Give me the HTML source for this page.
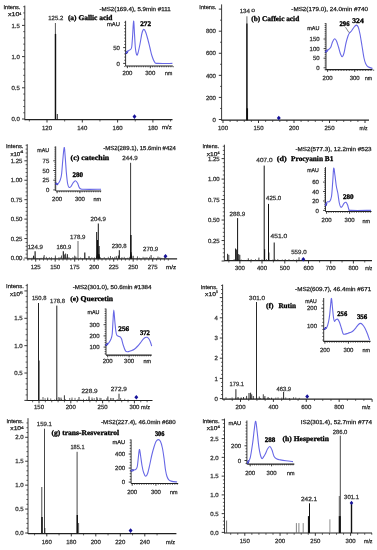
<!DOCTYPE html>
<html><head><meta charset="utf-8"><title>LC-MS/MS spectra</title>
<style>html,body{margin:0;padding:0;background:#fff;}svg{display:block;filter:blur(0.25px);}text{text-rendering:geometricPrecision;}</style>
</head><body>
<svg width="377" height="550" viewBox="0 0 377 550"><rect width="377" height="550" fill="#fff"/><line x1="24.8" y1="5.6" x2="24.8" y2="120.2" stroke="#222" stroke-width="0.9"/><line x1="23.2" y1="112.76" x2="24.8" y2="112.76" stroke="#222" stroke-width="0.7"/><line x1="23.2" y1="106.52" x2="24.8" y2="106.52" stroke="#222" stroke-width="0.7"/><line x1="23.2" y1="100.28" x2="24.8" y2="100.28" stroke="#222" stroke-width="0.7"/><line x1="23.2" y1="94.04" x2="24.8" y2="94.04" stroke="#222" stroke-width="0.7"/><line x1="23.2" y1="81.56" x2="24.8" y2="81.56" stroke="#222" stroke-width="0.7"/><line x1="23.2" y1="75.32" x2="24.8" y2="75.32" stroke="#222" stroke-width="0.7"/><line x1="23.2" y1="69.08" x2="24.8" y2="69.08" stroke="#222" stroke-width="0.7"/><line x1="23.2" y1="62.84" x2="24.8" y2="62.84" stroke="#222" stroke-width="0.7"/><line x1="23.2" y1="50.36" x2="24.8" y2="50.36" stroke="#222" stroke-width="0.7"/><line x1="23.2" y1="44.12" x2="24.8" y2="44.12" stroke="#222" stroke-width="0.7"/><line x1="23.2" y1="37.88" x2="24.8" y2="37.88" stroke="#222" stroke-width="0.7"/><line x1="23.2" y1="31.64" x2="24.8" y2="31.64" stroke="#222" stroke-width="0.7"/><line x1="23.2" y1="19.16" x2="24.8" y2="19.16" stroke="#222" stroke-width="0.7"/><line x1="23.2" y1="12.92" x2="24.8" y2="12.92" stroke="#222" stroke-width="0.7"/><line x1="23.2" y1="6.68" x2="24.8" y2="6.68" stroke="#222" stroke-width="0.7"/><line x1="22" y1="119" x2="24.8" y2="119" stroke="#222" stroke-width="0.9"/><line x1="22" y1="87.8" x2="24.8" y2="87.8" stroke="#222" stroke-width="0.9"/><line x1="22" y1="56.6" x2="24.8" y2="56.6" stroke="#222" stroke-width="0.9"/><line x1="22" y1="25.4" x2="24.8" y2="25.4" stroke="#222" stroke-width="0.9"/><text x="19.8" y="27.56" font-size="6" font-family='"Liberation Sans", sans-serif' text-anchor="end" stroke="#333" stroke-width="0.25" fill="#333">1.5</text><text x="19.8" y="58.76" font-size="6" font-family='"Liberation Sans", sans-serif' text-anchor="end" stroke="#333" stroke-width="0.25" fill="#333">1.0</text><text x="19.8" y="89.96" font-size="6" font-family='"Liberation Sans", sans-serif' text-anchor="end" stroke="#333" stroke-width="0.25" fill="#333">0.5</text><text x="19.8" y="121.16" font-size="6" font-family='"Liberation Sans", sans-serif' text-anchor="end" stroke="#333" stroke-width="0.25" fill="#333">0.0</text><text x="3.5" y="8.82" font-size="5.6" font-family='"Liberation Sans", sans-serif' stroke="#222" stroke-width="0.25" textLength="16.9" lengthAdjust="spacingAndGlyphs" fill="#222">Intens.</text><text x="8" y="16.32" font-size="5.6" font-family='"Liberation Sans", sans-serif' stroke="#222" stroke-width="0.25" textLength="11.5" lengthAdjust="spacingAndGlyphs" fill="#222">x10</text><text x="19.5" y="14.79" font-size="4" font-family='"Liberation Sans", sans-serif' stroke="#222" stroke-width="0.2" textLength="1.8" lengthAdjust="spacingAndGlyphs" fill="#222">4</text><line x1="24.8" y1="119.7" x2="172.5" y2="119.7" stroke="#222" stroke-width="1.2"/><line x1="29.35" y1="119.7" x2="29.35" y2="121.5" stroke="#222" stroke-width="0.7"/><line x1="64.65" y1="119.7" x2="64.65" y2="121.5" stroke="#222" stroke-width="0.7"/><line x1="99.95" y1="119.7" x2="99.95" y2="121.5" stroke="#222" stroke-width="0.7"/><line x1="135.25" y1="119.7" x2="135.25" y2="121.5" stroke="#222" stroke-width="0.7"/><line x1="170.55" y1="119.7" x2="170.55" y2="121.5" stroke="#222" stroke-width="0.7"/><line x1="47" y1="119.7" x2="47" y2="122.5" stroke="#222" stroke-width="0.9"/><line x1="82.3" y1="119.7" x2="82.3" y2="122.5" stroke="#222" stroke-width="0.9"/><line x1="117.6" y1="119.7" x2="117.6" y2="122.5" stroke="#222" stroke-width="0.9"/><line x1="152.9" y1="119.7" x2="152.9" y2="122.5" stroke="#222" stroke-width="0.9"/><text x="47" y="129.76" font-size="6" font-family='"Liberation Sans", sans-serif' text-anchor="middle" stroke="#333" stroke-width="0.25" fill="#333">120</text><text x="82.3" y="129.76" font-size="6" font-family='"Liberation Sans", sans-serif' text-anchor="middle" stroke="#333" stroke-width="0.25" fill="#333">140</text><text x="117.6" y="129.76" font-size="6" font-family='"Liberation Sans", sans-serif' text-anchor="middle" stroke="#333" stroke-width="0.25" fill="#333">160</text><text x="152.9" y="129.76" font-size="6" font-family='"Liberation Sans", sans-serif' text-anchor="middle" stroke="#333" stroke-width="0.25" fill="#333">180</text><text x="162" y="128.82" font-size="5.6" font-family='"Liberation Sans", sans-serif' stroke="#222" stroke-width="0.25" textLength="9.7" lengthAdjust="spacingAndGlyphs" fill="#222">m/z</text><line x1="55.4" y1="23" x2="55.4" y2="119.7" stroke="#444" stroke-width="0.9"/><line x1="55.5" y1="33.9" x2="55.5" y2="119.7" stroke="#111" stroke-width="1.4"/><line x1="57.3" y1="114" x2="57.3" y2="119.7" stroke="#111" stroke-width="0.9"/><text x="48.3" y="20.36" font-size="6" font-family='"Liberation Sans", sans-serif' stroke="#333" stroke-width="0.25" textLength="14.9" lengthAdjust="spacingAndGlyphs" fill="#333">125.2</text><text x="67.9" y="19.6" font-size="7.2" font-family='"Liberation Serif", serif' font-weight="bold" stroke="#000" stroke-width="0.3" textLength="44.6" lengthAdjust="spacingAndGlyphs" fill="#000">(a) Gallic acid</text><text x="99.5" y="10.89" font-size="5.8" font-family='"Liberation Sans", sans-serif' stroke="#222" stroke-width="0.25" textLength="71.1" lengthAdjust="spacingAndGlyphs" fill="#222">-MS2(169.4), 5.9min #111</text><path d="M134.5 114.3L136.46 116.6L134.5 118.9L132.54 116.6Z" fill="#16129a"/><line x1="125.6" y1="20.8" x2="125.6" y2="66" stroke="#222" stroke-width="0.9"/><line x1="124.2" y1="66.56" x2="125.6" y2="66.56" stroke="#222" stroke-width="0.7"/><line x1="124.2" y1="60.24" x2="125.6" y2="60.24" stroke="#222" stroke-width="0.7"/><line x1="124.2" y1="57.08" x2="125.6" y2="57.08" stroke="#222" stroke-width="0.7"/><line x1="124.2" y1="53.92" x2="125.6" y2="53.92" stroke="#222" stroke-width="0.7"/><line x1="124.2" y1="50.76" x2="125.6" y2="50.76" stroke="#222" stroke-width="0.7"/><line x1="124.2" y1="44.44" x2="125.6" y2="44.44" stroke="#222" stroke-width="0.7"/><line x1="124.2" y1="41.28" x2="125.6" y2="41.28" stroke="#222" stroke-width="0.7"/><line x1="124.2" y1="38.12" x2="125.6" y2="38.12" stroke="#222" stroke-width="0.7"/><line x1="124.2" y1="34.96" x2="125.6" y2="34.96" stroke="#222" stroke-width="0.7"/><line x1="124.2" y1="31.8" x2="125.6" y2="31.8" stroke="#222" stroke-width="0.7"/><line x1="124.2" y1="28.64" x2="125.6" y2="28.64" stroke="#222" stroke-width="0.7"/><line x1="124.2" y1="25.48" x2="125.6" y2="25.48" stroke="#222" stroke-width="0.7"/><line x1="124.2" y1="22.32" x2="125.6" y2="22.32" stroke="#222" stroke-width="0.7"/><line x1="123.2" y1="63.4" x2="125.6" y2="63.4" stroke="#222" stroke-width="0.9"/><line x1="123.2" y1="47.6" x2="125.6" y2="47.6" stroke="#222" stroke-width="0.9"/><text x="119.9" y="49.76" font-size="6" font-family='"Liberation Sans", sans-serif' text-anchor="end" stroke="#333" stroke-width="0.25" fill="#333">50</text><text x="119.9" y="65.56" font-size="6" font-family='"Liberation Sans", sans-serif' text-anchor="end" stroke="#333" stroke-width="0.25" fill="#333">0</text><text x="107" y="25.82" font-size="5.6" font-family='"Liberation Sans", sans-serif' stroke="#222" stroke-width="0.25" textLength="13" lengthAdjust="spacingAndGlyphs" fill="#222">mAU</text><line x1="126" y1="66" x2="172.8" y2="66" stroke="#222" stroke-width="1.2"/><line x1="129.69" y1="66" x2="129.69" y2="67.3" stroke="#222" stroke-width="0.7"/><line x1="131.98" y1="66" x2="131.98" y2="67.3" stroke="#222" stroke-width="0.7"/><line x1="134.27" y1="66" x2="134.27" y2="67.3" stroke="#222" stroke-width="0.7"/><line x1="136.56" y1="66" x2="136.56" y2="67.3" stroke="#222" stroke-width="0.7"/><line x1="138.85" y1="66" x2="138.85" y2="67.3" stroke="#222" stroke-width="0.7"/><line x1="141.14" y1="66" x2="141.14" y2="67.3" stroke="#222" stroke-width="0.7"/><line x1="143.43" y1="66" x2="143.43" y2="67.3" stroke="#222" stroke-width="0.7"/><line x1="145.72" y1="66" x2="145.72" y2="67.3" stroke="#222" stroke-width="0.7"/><line x1="148.01" y1="66" x2="148.01" y2="67.3" stroke="#222" stroke-width="0.7"/><line x1="152.59" y1="66" x2="152.59" y2="67.3" stroke="#222" stroke-width="0.7"/><line x1="154.88" y1="66" x2="154.88" y2="67.3" stroke="#222" stroke-width="0.7"/><line x1="157.17" y1="66" x2="157.17" y2="67.3" stroke="#222" stroke-width="0.7"/><line x1="159.46" y1="66" x2="159.46" y2="67.3" stroke="#222" stroke-width="0.7"/><line x1="161.75" y1="66" x2="161.75" y2="67.3" stroke="#222" stroke-width="0.7"/><line x1="164.04" y1="66" x2="164.04" y2="67.3" stroke="#222" stroke-width="0.7"/><line x1="166.33" y1="66" x2="166.33" y2="67.3" stroke="#222" stroke-width="0.7"/><line x1="168.62" y1="66" x2="168.62" y2="67.3" stroke="#222" stroke-width="0.7"/><line x1="170.91" y1="66" x2="170.91" y2="67.3" stroke="#222" stroke-width="0.7"/><line x1="173.2" y1="66" x2="173.2" y2="67.3" stroke="#222" stroke-width="0.7"/><line x1="127.4" y1="66" x2="127.4" y2="68.2" stroke="#222" stroke-width="0.9"/><line x1="150.3" y1="66" x2="150.3" y2="68.2" stroke="#222" stroke-width="0.9"/><text x="127.4" y="74.56" font-size="6" font-family='"Liberation Sans", sans-serif' text-anchor="middle" stroke="#333" stroke-width="0.25" fill="#333">200</text><text x="150.3" y="74.56" font-size="6" font-family='"Liberation Sans", sans-serif' text-anchor="middle" stroke="#333" stroke-width="0.25" fill="#333">300</text><text x="165" y="74.62" font-size="5.6" font-family='"Liberation Sans", sans-serif' stroke="#222" stroke-width="0.25" textLength="7.2" lengthAdjust="spacingAndGlyphs" fill="#222">nm</text><line x1="126.3" y1="53.1" x2="127.38" y2="51.65" stroke="#2424a0" stroke-width="1.9" stroke-linecap="round"/><path d="M126 53.1 C126.33 52.75 127.25 51.6 128 51 C128.75 50.4 129.88 50.17 130.5 49.5 C131.12 48.83 131.35 49.25 131.7 47 C132.05 44.75 132.28 40.32 132.6 36 C132.92 31.68 133.28 21.43 133.6 21.1 C133.92 20.77 134.2 29.52 134.5 34 C134.8 38.48 135.03 44.53 135.4 48 C135.77 51.47 136.27 53.97 136.7 54.8 C137.13 55.63 137.45 54.8 138 53 C138.55 51.2 139.33 47.33 140 44 C140.67 40.67 141.35 35.43 142 33 C142.65 30.57 143.27 29.48 143.9 29.4 C144.53 29.32 145.12 30.73 145.8 32.5 C146.48 34.27 147.3 37.42 148 40 C148.7 42.58 149.33 45.33 150 48 C150.67 50.67 151.2 53.6 152 56 C152.8 58.4 153.8 61.17 154.8 62.4 C155.8 63.63 155.07 63.23 158 63.4 C160.93 63.57 170 63.4 172.4 63.4" fill="none" stroke="#6868e6" stroke-width="1.1" stroke-linejoin="round"/><text x="140.2" y="25.72" font-size="7" font-family='"Liberation Serif", serif' font-weight="bold" stroke="#000" stroke-width="0.35" textLength="10.8" lengthAdjust="spacingAndGlyphs" fill="#000">272</text><line x1="221.6" y1="4.4" x2="221.6" y2="120.6" stroke="#222" stroke-width="0.9"/><line x1="220" y1="108.46" x2="221.6" y2="108.46" stroke="#222" stroke-width="0.7"/><line x1="220" y1="86.39" x2="221.6" y2="86.39" stroke="#222" stroke-width="0.7"/><line x1="220" y1="64.31" x2="221.6" y2="64.31" stroke="#222" stroke-width="0.7"/><line x1="220" y1="42.24" x2="221.6" y2="42.24" stroke="#222" stroke-width="0.7"/><line x1="220" y1="20.16" x2="221.6" y2="20.16" stroke="#222" stroke-width="0.7"/><line x1="218.8" y1="119.5" x2="221.6" y2="119.5" stroke="#222" stroke-width="0.9"/><line x1="218.8" y1="97.42" x2="221.6" y2="97.42" stroke="#222" stroke-width="0.9"/><line x1="218.8" y1="75.35" x2="221.6" y2="75.35" stroke="#222" stroke-width="0.9"/><line x1="218.8" y1="53.28" x2="221.6" y2="53.28" stroke="#222" stroke-width="0.9"/><line x1="218.8" y1="31.2" x2="221.6" y2="31.2" stroke="#222" stroke-width="0.9"/><line x1="218.8" y1="9.12" x2="221.6" y2="9.12" stroke="#222" stroke-width="0.9"/><text x="215.9" y="33.36" font-size="6" font-family='"Liberation Sans", sans-serif' text-anchor="end" stroke="#333" stroke-width="0.25" fill="#333">800</text><text x="215.9" y="55.44" font-size="6" font-family='"Liberation Sans", sans-serif' text-anchor="end" stroke="#333" stroke-width="0.25" fill="#333">600</text><text x="215.9" y="77.51" font-size="6" font-family='"Liberation Sans", sans-serif' text-anchor="end" stroke="#333" stroke-width="0.25" fill="#333">400</text><text x="215.9" y="99.58" font-size="6" font-family='"Liberation Sans", sans-serif' text-anchor="end" stroke="#333" stroke-width="0.25" fill="#333">200</text><text x="215.9" y="121.66" font-size="6" font-family='"Liberation Sans", sans-serif' text-anchor="end" stroke="#333" stroke-width="0.25" fill="#333">0</text><text x="199.3" y="9.02" font-size="5.6" font-family='"Liberation Sans", sans-serif' stroke="#222" stroke-width="0.25" textLength="17.1" lengthAdjust="spacingAndGlyphs" fill="#222">Intens.</text><line x1="221.6" y1="120.2" x2="369" y2="120.2" stroke="#222" stroke-width="1.2"/><line x1="230.1" y1="120.2" x2="230.1" y2="122" stroke="#222" stroke-width="0.7"/><line x1="237.2" y1="120.2" x2="237.2" y2="122" stroke="#222" stroke-width="0.7"/><line x1="244.3" y1="120.2" x2="244.3" y2="122" stroke="#222" stroke-width="0.7"/><line x1="251.4" y1="120.2" x2="251.4" y2="122" stroke="#222" stroke-width="0.7"/><line x1="265.6" y1="120.2" x2="265.6" y2="122" stroke="#222" stroke-width="0.7"/><line x1="272.7" y1="120.2" x2="272.7" y2="122" stroke="#222" stroke-width="0.7"/><line x1="279.8" y1="120.2" x2="279.8" y2="122" stroke="#222" stroke-width="0.7"/><line x1="286.9" y1="120.2" x2="286.9" y2="122" stroke="#222" stroke-width="0.7"/><line x1="301.1" y1="120.2" x2="301.1" y2="122" stroke="#222" stroke-width="0.7"/><line x1="308.2" y1="120.2" x2="308.2" y2="122" stroke="#222" stroke-width="0.7"/><line x1="315.3" y1="120.2" x2="315.3" y2="122" stroke="#222" stroke-width="0.7"/><line x1="322.4" y1="120.2" x2="322.4" y2="122" stroke="#222" stroke-width="0.7"/><line x1="336.6" y1="120.2" x2="336.6" y2="122" stroke="#222" stroke-width="0.7"/><line x1="343.7" y1="120.2" x2="343.7" y2="122" stroke="#222" stroke-width="0.7"/><line x1="350.8" y1="120.2" x2="350.8" y2="122" stroke="#222" stroke-width="0.7"/><line x1="357.9" y1="120.2" x2="357.9" y2="122" stroke="#222" stroke-width="0.7"/><line x1="223" y1="120.2" x2="223" y2="123" stroke="#222" stroke-width="0.9"/><line x1="258.5" y1="120.2" x2="258.5" y2="123" stroke="#222" stroke-width="0.9"/><line x1="294" y1="120.2" x2="294" y2="123" stroke="#222" stroke-width="0.9"/><line x1="329.5" y1="120.2" x2="329.5" y2="123" stroke="#222" stroke-width="0.9"/><line x1="365" y1="120.2" x2="365" y2="123" stroke="#222" stroke-width="0.9"/><text x="223" y="130.16" font-size="6" font-family='"Liberation Sans", sans-serif' text-anchor="middle" stroke="#333" stroke-width="0.25" fill="#333">100</text><text x="258.5" y="130.16" font-size="6" font-family='"Liberation Sans", sans-serif' text-anchor="middle" stroke="#333" stroke-width="0.25" fill="#333">150</text><text x="294" y="130.16" font-size="6" font-family='"Liberation Sans", sans-serif' text-anchor="middle" stroke="#333" stroke-width="0.25" fill="#333">200</text><text x="329.5" y="130.16" font-size="6" font-family='"Liberation Sans", sans-serif' text-anchor="middle" stroke="#333" stroke-width="0.25" fill="#333">250</text><text x="359.5" y="129.62" font-size="5.6" font-family='"Liberation Sans", sans-serif' stroke="#222" stroke-width="0.25" textLength="8" lengthAdjust="spacingAndGlyphs" fill="#222">m/z</text><line x1="246.9" y1="16.3" x2="246.9" y2="120.2" stroke="#555" stroke-width="0.9"/><line x1="246.9" y1="23.6" x2="246.9" y2="120.2" stroke="#111" stroke-width="1.3"/><line x1="247.2" y1="108.3" x2="247.2" y2="120.2" stroke="#111" stroke-width="1.7"/><text x="239.7" y="12.66" font-size="6" font-family='"Liberation Sans", sans-serif' stroke="#333" stroke-width="0.25" textLength="10.3" lengthAdjust="spacingAndGlyphs" fill="#333">134</text><text x="251.2" y="11.76" font-size="6" font-family='"Liberation Sans", sans-serif' stroke="#333" stroke-width="0.25" textLength="3.8" lengthAdjust="spacingAndGlyphs" fill="#333">o</text><text x="251.3" y="20.6" font-size="7.2" font-family='"Liberation Serif", serif' font-weight="bold" stroke="#000" stroke-width="0.3" textLength="47.9" lengthAdjust="spacingAndGlyphs" fill="#000">(b) Caffeic acid</text><text x="291.3" y="10.59" font-size="5.8" font-family='"Liberation Sans", sans-serif' stroke="#222" stroke-width="0.25" textLength="76.7" lengthAdjust="spacingAndGlyphs" fill="#222">-MS2(179.0), 24.0min #740</text><path d="M278.8 115.7L280.75 118L278.8 120.3L276.85 118Z" fill="#16129a"/><line x1="326" y1="23.1" x2="326" y2="69.6" stroke="#222" stroke-width="0.9"/><line x1="324.6" y1="69.72" x2="326" y2="69.72" stroke="#222" stroke-width="0.7"/><line x1="324.6" y1="65.88" x2="326" y2="65.88" stroke="#222" stroke-width="0.7"/><line x1="324.6" y1="63.96" x2="326" y2="63.96" stroke="#222" stroke-width="0.7"/><line x1="324.6" y1="62.04" x2="326" y2="62.04" stroke="#222" stroke-width="0.7"/><line x1="324.6" y1="60.12" x2="326" y2="60.12" stroke="#222" stroke-width="0.7"/><line x1="324.6" y1="56.28" x2="326" y2="56.28" stroke="#222" stroke-width="0.7"/><line x1="324.6" y1="54.36" x2="326" y2="54.36" stroke="#222" stroke-width="0.7"/><line x1="324.6" y1="52.44" x2="326" y2="52.44" stroke="#222" stroke-width="0.7"/><line x1="324.6" y1="50.52" x2="326" y2="50.52" stroke="#222" stroke-width="0.7"/><line x1="324.6" y1="46.68" x2="326" y2="46.68" stroke="#222" stroke-width="0.7"/><line x1="324.6" y1="44.76" x2="326" y2="44.76" stroke="#222" stroke-width="0.7"/><line x1="324.6" y1="42.84" x2="326" y2="42.84" stroke="#222" stroke-width="0.7"/><line x1="324.6" y1="40.92" x2="326" y2="40.92" stroke="#222" stroke-width="0.7"/><line x1="324.6" y1="37.08" x2="326" y2="37.08" stroke="#222" stroke-width="0.7"/><line x1="324.6" y1="35.16" x2="326" y2="35.16" stroke="#222" stroke-width="0.7"/><line x1="324.6" y1="33.24" x2="326" y2="33.24" stroke="#222" stroke-width="0.7"/><line x1="324.6" y1="31.32" x2="326" y2="31.32" stroke="#222" stroke-width="0.7"/><line x1="324.6" y1="29.4" x2="326" y2="29.4" stroke="#222" stroke-width="0.7"/><line x1="324.6" y1="27.48" x2="326" y2="27.48" stroke="#222" stroke-width="0.7"/><line x1="324.6" y1="25.56" x2="326" y2="25.56" stroke="#222" stroke-width="0.7"/><line x1="324.6" y1="23.64" x2="326" y2="23.64" stroke="#222" stroke-width="0.7"/><line x1="323.6" y1="67.8" x2="326" y2="67.8" stroke="#222" stroke-width="0.9"/><line x1="323.6" y1="58.2" x2="326" y2="58.2" stroke="#222" stroke-width="0.9"/><line x1="323.6" y1="48.6" x2="326" y2="48.6" stroke="#222" stroke-width="0.9"/><line x1="323.6" y1="39" x2="326" y2="39" stroke="#222" stroke-width="0.9"/><text x="319.6" y="41.16" font-size="6" font-family='"Liberation Sans", sans-serif' text-anchor="end" stroke="#333" stroke-width="0.25" fill="#333">150</text><text x="319.6" y="50.76" font-size="6" font-family='"Liberation Sans", sans-serif' text-anchor="end" stroke="#333" stroke-width="0.25" fill="#333">100</text><text x="319.6" y="60.36" font-size="6" font-family='"Liberation Sans", sans-serif' text-anchor="end" stroke="#333" stroke-width="0.25" fill="#333">50</text><text x="319.6" y="69.96" font-size="6" font-family='"Liberation Sans", sans-serif' text-anchor="end" stroke="#333" stroke-width="0.25" fill="#333">0</text><text x="307.3" y="30.22" font-size="5.6" font-family='"Liberation Sans", sans-serif' stroke="#222" stroke-width="0.25" textLength="12.2" lengthAdjust="spacingAndGlyphs" fill="#222">mAU</text><line x1="325.5" y1="69.6" x2="372.5" y2="69.6" stroke="#222" stroke-width="1.2"/><line x1="330.31" y1="69.6" x2="330.31" y2="70.9" stroke="#222" stroke-width="0.7"/><line x1="333.02" y1="69.6" x2="333.02" y2="70.9" stroke="#222" stroke-width="0.7"/><line x1="335.73" y1="69.6" x2="335.73" y2="70.9" stroke="#222" stroke-width="0.7"/><line x1="338.44" y1="69.6" x2="338.44" y2="70.9" stroke="#222" stroke-width="0.7"/><line x1="341.15" y1="69.6" x2="341.15" y2="70.9" stroke="#222" stroke-width="0.7"/><line x1="343.86" y1="69.6" x2="343.86" y2="70.9" stroke="#222" stroke-width="0.7"/><line x1="346.57" y1="69.6" x2="346.57" y2="70.9" stroke="#222" stroke-width="0.7"/><line x1="349.28" y1="69.6" x2="349.28" y2="70.9" stroke="#222" stroke-width="0.7"/><line x1="351.99" y1="69.6" x2="351.99" y2="70.9" stroke="#222" stroke-width="0.7"/><line x1="357.41" y1="69.6" x2="357.41" y2="70.9" stroke="#222" stroke-width="0.7"/><line x1="360.12" y1="69.6" x2="360.12" y2="70.9" stroke="#222" stroke-width="0.7"/><line x1="362.83" y1="69.6" x2="362.83" y2="70.9" stroke="#222" stroke-width="0.7"/><line x1="365.54" y1="69.6" x2="365.54" y2="70.9" stroke="#222" stroke-width="0.7"/><line x1="368.25" y1="69.6" x2="368.25" y2="70.9" stroke="#222" stroke-width="0.7"/><line x1="370.96" y1="69.6" x2="370.96" y2="70.9" stroke="#222" stroke-width="0.7"/><line x1="373.67" y1="69.6" x2="373.67" y2="70.9" stroke="#222" stroke-width="0.7"/><line x1="327.6" y1="69.6" x2="327.6" y2="71.8" stroke="#222" stroke-width="0.9"/><line x1="354.7" y1="69.6" x2="354.7" y2="71.8" stroke="#222" stroke-width="0.9"/><text x="327.6" y="79.96" font-size="6" font-family='"Liberation Sans", sans-serif' text-anchor="middle" stroke="#333" stroke-width="0.25" fill="#333">200</text><text x="354.7" y="79.96" font-size="6" font-family='"Liberation Sans", sans-serif' text-anchor="middle" stroke="#333" stroke-width="0.25" fill="#333">300</text><text x="365" y="80.02" font-size="5.6" font-family='"Liberation Sans", sans-serif' stroke="#222" stroke-width="0.25" textLength="7" lengthAdjust="spacingAndGlyphs" fill="#222">nm</text><line x1="325.8" y1="51.7" x2="327.15" y2="50.58" stroke="#2424a0" stroke-width="1.9" stroke-linecap="round"/><path d="M325.5 51.7 C325.92 51.42 327.15 50.68 328 50 C328.85 49.32 329.85 48.93 330.6 47.6 C331.35 46.27 331.82 43.47 332.5 42 C333.18 40.53 334.03 38.97 334.7 38.8 C335.37 38.63 335.87 39.63 336.5 41 C337.13 42.37 337.83 44.83 338.5 47 C339.17 49.17 339.87 52.37 340.5 54 C341.13 55.63 341.72 56.97 342.3 56.8 C342.88 56.63 343.38 55.3 344 53 C344.62 50.7 345.33 45.83 346 43 C346.67 40.17 347.42 37.67 348 36 C348.58 34.33 348.92 33.83 349.5 33 C350.08 32.17 350.78 31.92 351.5 31 C352.22 30.08 353.02 28.48 353.8 27.5 C354.58 26.52 355.47 25.18 356.2 25.1 C356.93 25.02 357.57 25.52 358.2 27 C358.83 28.48 359.37 30.83 360 34 C360.63 37.17 361.33 42 362 46 C362.67 50 363.4 55.08 364 58 C364.6 60.92 364.93 62.03 365.6 63.5 C366.27 64.97 366.85 65.98 368 66.8 C369.15 67.62 371.75 68.13 372.5 68.4" fill="none" stroke="#6868e6" stroke-width="1.1" stroke-linejoin="round"/><text x="339.5" y="25.82" font-size="7" font-family='"Liberation Serif", serif' font-weight="bold" stroke="#000" stroke-width="0.35" textLength="10" lengthAdjust="spacingAndGlyphs" fill="#000">296</text><text x="352.3" y="23.02" font-size="7" font-family='"Liberation Serif", serif' font-weight="bold" stroke="#000" stroke-width="0.35" textLength="11.4" lengthAdjust="spacingAndGlyphs" fill="#000">324</text><line x1="345.5" y1="27.2" x2="349" y2="32.6" stroke="#333" stroke-width="0.6"/><line x1="27.2" y1="144.2" x2="27.2" y2="259.2" stroke="#222" stroke-width="0.9"/><line x1="25.6" y1="254.11" x2="27.2" y2="254.11" stroke="#222" stroke-width="0.7"/><line x1="25.6" y1="250.22" x2="27.2" y2="250.22" stroke="#222" stroke-width="0.7"/><line x1="25.6" y1="246.34" x2="27.2" y2="246.34" stroke="#222" stroke-width="0.7"/><line x1="25.6" y1="242.45" x2="27.2" y2="242.45" stroke="#222" stroke-width="0.7"/><line x1="25.6" y1="234.67" x2="27.2" y2="234.67" stroke="#222" stroke-width="0.7"/><line x1="25.6" y1="230.78" x2="27.2" y2="230.78" stroke="#222" stroke-width="0.7"/><line x1="25.6" y1="226.9" x2="27.2" y2="226.9" stroke="#222" stroke-width="0.7"/><line x1="25.6" y1="223.01" x2="27.2" y2="223.01" stroke="#222" stroke-width="0.7"/><line x1="25.6" y1="215.23" x2="27.2" y2="215.23" stroke="#222" stroke-width="0.7"/><line x1="25.6" y1="211.34" x2="27.2" y2="211.34" stroke="#222" stroke-width="0.7"/><line x1="25.6" y1="207.46" x2="27.2" y2="207.46" stroke="#222" stroke-width="0.7"/><line x1="25.6" y1="203.57" x2="27.2" y2="203.57" stroke="#222" stroke-width="0.7"/><line x1="25.6" y1="195.79" x2="27.2" y2="195.79" stroke="#222" stroke-width="0.7"/><line x1="25.6" y1="191.9" x2="27.2" y2="191.9" stroke="#222" stroke-width="0.7"/><line x1="25.6" y1="188.02" x2="27.2" y2="188.02" stroke="#222" stroke-width="0.7"/><line x1="25.6" y1="184.13" x2="27.2" y2="184.13" stroke="#222" stroke-width="0.7"/><line x1="25.6" y1="176.35" x2="27.2" y2="176.35" stroke="#222" stroke-width="0.7"/><line x1="25.6" y1="172.46" x2="27.2" y2="172.46" stroke="#222" stroke-width="0.7"/><line x1="25.6" y1="168.58" x2="27.2" y2="168.58" stroke="#222" stroke-width="0.7"/><line x1="25.6" y1="164.69" x2="27.2" y2="164.69" stroke="#222" stroke-width="0.7"/><line x1="25.6" y1="156.91" x2="27.2" y2="156.91" stroke="#222" stroke-width="0.7"/><line x1="25.6" y1="153.02" x2="27.2" y2="153.02" stroke="#222" stroke-width="0.7"/><line x1="25.6" y1="149.14" x2="27.2" y2="149.14" stroke="#222" stroke-width="0.7"/><line x1="25.6" y1="145.25" x2="27.2" y2="145.25" stroke="#222" stroke-width="0.7"/><line x1="24.4" y1="258" x2="27.2" y2="258" stroke="#222" stroke-width="0.9"/><line x1="24.4" y1="238.56" x2="27.2" y2="238.56" stroke="#222" stroke-width="0.9"/><line x1="24.4" y1="219.12" x2="27.2" y2="219.12" stroke="#222" stroke-width="0.9"/><line x1="24.4" y1="199.68" x2="27.2" y2="199.68" stroke="#222" stroke-width="0.9"/><line x1="24.4" y1="180.24" x2="27.2" y2="180.24" stroke="#222" stroke-width="0.9"/><line x1="24.4" y1="160.8" x2="27.2" y2="160.8" stroke="#222" stroke-width="0.9"/><text x="22.4" y="162.96" font-size="6" font-family='"Liberation Sans", sans-serif' text-anchor="end" stroke="#333" stroke-width="0.25" fill="#333">1.25</text><text x="22.4" y="182.4" font-size="6" font-family='"Liberation Sans", sans-serif' text-anchor="end" stroke="#333" stroke-width="0.25" fill="#333">1.00</text><text x="22.4" y="201.84" font-size="6" font-family='"Liberation Sans", sans-serif' text-anchor="end" stroke="#333" stroke-width="0.25" fill="#333">0.75</text><text x="22.4" y="221.28" font-size="6" font-family='"Liberation Sans", sans-serif' text-anchor="end" stroke="#333" stroke-width="0.25" fill="#333">0.50</text><text x="22.4" y="240.72" font-size="6" font-family='"Liberation Sans", sans-serif' text-anchor="end" stroke="#333" stroke-width="0.25" fill="#333">0.25</text><text x="22.4" y="260.16" font-size="6" font-family='"Liberation Sans", sans-serif' text-anchor="end" stroke="#333" stroke-width="0.25" fill="#333">0.00</text><text x="6" y="148.02" font-size="5.6" font-family='"Liberation Sans", sans-serif' stroke="#222" stroke-width="0.25" textLength="17.4" lengthAdjust="spacingAndGlyphs" fill="#222">Intens.</text><text x="10.4" y="155.62" font-size="5.6" font-family='"Liberation Sans", sans-serif' stroke="#222" stroke-width="0.25" textLength="9.8" lengthAdjust="spacingAndGlyphs" fill="#222">x10</text><text x="20.2" y="153.29" font-size="4" font-family='"Liberation Sans", sans-serif' stroke="#222" stroke-width="0.2" textLength="3" lengthAdjust="spacingAndGlyphs" fill="#222">4</text><line x1="27.1" y1="258.8" x2="177.1" y2="258.8" stroke="#222" stroke-width="1.2"/><line x1="20.1" y1="258.8" x2="20.1" y2="260.6" stroke="#222" stroke-width="0.7"/><line x1="24" y1="258.8" x2="24" y2="260.6" stroke="#222" stroke-width="0.7"/><line x1="27.9" y1="258.8" x2="27.9" y2="260.6" stroke="#222" stroke-width="0.7"/><line x1="31.8" y1="258.8" x2="31.8" y2="260.6" stroke="#222" stroke-width="0.7"/><line x1="39.6" y1="258.8" x2="39.6" y2="260.6" stroke="#222" stroke-width="0.7"/><line x1="43.5" y1="258.8" x2="43.5" y2="260.6" stroke="#222" stroke-width="0.7"/><line x1="47.4" y1="258.8" x2="47.4" y2="260.6" stroke="#222" stroke-width="0.7"/><line x1="51.3" y1="258.8" x2="51.3" y2="260.6" stroke="#222" stroke-width="0.7"/><line x1="59.1" y1="258.8" x2="59.1" y2="260.6" stroke="#222" stroke-width="0.7"/><line x1="63" y1="258.8" x2="63" y2="260.6" stroke="#222" stroke-width="0.7"/><line x1="66.9" y1="258.8" x2="66.9" y2="260.6" stroke="#222" stroke-width="0.7"/><line x1="70.8" y1="258.8" x2="70.8" y2="260.6" stroke="#222" stroke-width="0.7"/><line x1="78.6" y1="258.8" x2="78.6" y2="260.6" stroke="#222" stroke-width="0.7"/><line x1="82.5" y1="258.8" x2="82.5" y2="260.6" stroke="#222" stroke-width="0.7"/><line x1="86.4" y1="258.8" x2="86.4" y2="260.6" stroke="#222" stroke-width="0.7"/><line x1="90.3" y1="258.8" x2="90.3" y2="260.6" stroke="#222" stroke-width="0.7"/><line x1="98.1" y1="258.8" x2="98.1" y2="260.6" stroke="#222" stroke-width="0.7"/><line x1="102" y1="258.8" x2="102" y2="260.6" stroke="#222" stroke-width="0.7"/><line x1="105.9" y1="258.8" x2="105.9" y2="260.6" stroke="#222" stroke-width="0.7"/><line x1="109.8" y1="258.8" x2="109.8" y2="260.6" stroke="#222" stroke-width="0.7"/><line x1="117.6" y1="258.8" x2="117.6" y2="260.6" stroke="#222" stroke-width="0.7"/><line x1="121.5" y1="258.8" x2="121.5" y2="260.6" stroke="#222" stroke-width="0.7"/><line x1="125.4" y1="258.8" x2="125.4" y2="260.6" stroke="#222" stroke-width="0.7"/><line x1="129.3" y1="258.8" x2="129.3" y2="260.6" stroke="#222" stroke-width="0.7"/><line x1="137.1" y1="258.8" x2="137.1" y2="260.6" stroke="#222" stroke-width="0.7"/><line x1="141" y1="258.8" x2="141" y2="260.6" stroke="#222" stroke-width="0.7"/><line x1="144.9" y1="258.8" x2="144.9" y2="260.6" stroke="#222" stroke-width="0.7"/><line x1="148.8" y1="258.8" x2="148.8" y2="260.6" stroke="#222" stroke-width="0.7"/><line x1="156.6" y1="258.8" x2="156.6" y2="260.6" stroke="#222" stroke-width="0.7"/><line x1="160.5" y1="258.8" x2="160.5" y2="260.6" stroke="#222" stroke-width="0.7"/><line x1="164.4" y1="258.8" x2="164.4" y2="260.6" stroke="#222" stroke-width="0.7"/><line x1="168.3" y1="258.8" x2="168.3" y2="260.6" stroke="#222" stroke-width="0.7"/><line x1="35.7" y1="258.8" x2="35.7" y2="261.6" stroke="#222" stroke-width="0.9"/><line x1="55.2" y1="258.8" x2="55.2" y2="261.6" stroke="#222" stroke-width="0.9"/><line x1="74.7" y1="258.8" x2="74.7" y2="261.6" stroke="#222" stroke-width="0.9"/><line x1="94.2" y1="258.8" x2="94.2" y2="261.6" stroke="#222" stroke-width="0.9"/><line x1="113.7" y1="258.8" x2="113.7" y2="261.6" stroke="#222" stroke-width="0.9"/><line x1="133.2" y1="258.8" x2="133.2" y2="261.6" stroke="#222" stroke-width="0.9"/><line x1="152.7" y1="258.8" x2="152.7" y2="261.6" stroke="#222" stroke-width="0.9"/><text x="35.7" y="268.96" font-size="6" font-family='"Liberation Sans", sans-serif' text-anchor="middle" stroke="#333" stroke-width="0.25" fill="#333">125</text><text x="55.2" y="268.96" font-size="6" font-family='"Liberation Sans", sans-serif' text-anchor="middle" stroke="#333" stroke-width="0.25" fill="#333">150</text><text x="74.7" y="268.96" font-size="6" font-family='"Liberation Sans", sans-serif' text-anchor="middle" stroke="#333" stroke-width="0.25" fill="#333">175</text><text x="94.2" y="268.96" font-size="6" font-family='"Liberation Sans", sans-serif' text-anchor="middle" stroke="#333" stroke-width="0.25" fill="#333">200</text><text x="113.7" y="268.96" font-size="6" font-family='"Liberation Sans", sans-serif' text-anchor="middle" stroke="#333" stroke-width="0.25" fill="#333">225</text><text x="133.2" y="268.96" font-size="6" font-family='"Liberation Sans", sans-serif' text-anchor="middle" stroke="#333" stroke-width="0.25" fill="#333">250</text><text x="152.7" y="268.96" font-size="6" font-family='"Liberation Sans", sans-serif' text-anchor="middle" stroke="#333" stroke-width="0.25" fill="#333">275</text><text x="166" y="268.82" font-size="5.6" font-family='"Liberation Sans", sans-serif' stroke="#222" stroke-width="0.25" textLength="10.1" lengthAdjust="spacingAndGlyphs" fill="#222">m/z</text><line x1="35.1" y1="251.2" x2="35.1" y2="258.8" stroke="#111" stroke-width="1.1"/><line x1="33.6" y1="255.7" x2="33.6" y2="258.8" stroke="#111" stroke-width="1"/><line x1="44.2" y1="255" x2="44.2" y2="258.8" stroke="#333" stroke-width="0.8"/><line x1="55.4" y1="255.5" x2="55.4" y2="258.8" stroke="#333" stroke-width="0.8"/><line x1="61.5" y1="255.5" x2="61.5" y2="258.8" stroke="#333" stroke-width="0.8"/><line x1="63.3" y1="251.2" x2="63.3" y2="258.8" stroke="#111" stroke-width="1.1"/><line x1="64.3" y1="254.5" x2="64.3" y2="258.8" stroke="#222" stroke-width="0.9"/><line x1="65.6" y1="253.5" x2="65.6" y2="258.8" stroke="#222" stroke-width="0.9"/><line x1="67.4" y1="254.2" x2="67.4" y2="258.8" stroke="#222" stroke-width="1"/><line x1="74.6" y1="255.7" x2="74.6" y2="258.8" stroke="#333" stroke-width="0.8"/><line x1="75.7" y1="256.5" x2="75.7" y2="258.8" stroke="#333" stroke-width="0.8"/><line x1="78" y1="241" x2="78" y2="258.8" stroke="#444" stroke-width="0.8"/><line x1="84.8" y1="252.4" x2="84.8" y2="258.8" stroke="#111" stroke-width="1.1"/><line x1="89" y1="256" x2="89" y2="258.8" stroke="#333" stroke-width="0.8"/><line x1="96.7" y1="232" x2="96.7" y2="258.8" stroke="#111" stroke-width="1"/><line x1="97.5" y1="240" x2="97.5" y2="258.8" stroke="#111" stroke-width="1"/><line x1="98.3" y1="223.5" x2="98.3" y2="258.8" stroke="#111" stroke-width="1"/><line x1="99.1" y1="246" x2="99.1" y2="258.8" stroke="#111" stroke-width="1"/><line x1="110.5" y1="256" x2="110.5" y2="258.8" stroke="#333" stroke-width="0.8"/><line x1="116.3" y1="256.2" x2="116.3" y2="258.8" stroke="#222" stroke-width="0.9"/><line x1="118.4" y1="255.5" x2="118.4" y2="258.8" stroke="#222" stroke-width="0.9"/><line x1="119.3" y1="250.2" x2="119.3" y2="258.8" stroke="#111" stroke-width="1"/><line x1="130.6" y1="162.8" x2="130.6" y2="258.8" stroke="#222" stroke-width="0.9"/><line x1="130.9" y1="235" x2="130.9" y2="258.8" stroke="#111" stroke-width="1.4"/><line x1="133.2" y1="255.8" x2="133.2" y2="258.8" stroke="#222" stroke-width="0.9"/><line x1="137.5" y1="256.3" x2="137.5" y2="258.8" stroke="#333" stroke-width="0.7"/><line x1="151.1" y1="255.1" x2="151.1" y2="258.8" stroke="#222" stroke-width="0.9"/><line x1="158" y1="256.5" x2="158" y2="258.8" stroke="#333" stroke-width="0.7"/><path d="M95.6 258.8 L97.2 254 L99.4 254 L100.4 258.8Z" fill="#111"/><path d="M130 258.8 L130.4 252 L131.4 252 L132.4 258.8Z" fill="#111"/><text x="27.7" y="248.96" font-size="6" font-family='"Liberation Sans", sans-serif' stroke="#333" stroke-width="0.25" textLength="15.3" lengthAdjust="spacingAndGlyphs" fill="#333">124.9</text><text x="56.6" y="249.16" font-size="6" font-family='"Liberation Sans", sans-serif' stroke="#333" stroke-width="0.25" textLength="14.6" lengthAdjust="spacingAndGlyphs" fill="#333">160.9</text><text x="70.1" y="238.56" font-size="6" font-family='"Liberation Sans", sans-serif' stroke="#333" stroke-width="0.25" textLength="15.3" lengthAdjust="spacingAndGlyphs" fill="#333">178.9</text><text x="90.6" y="220.56" font-size="6" font-family='"Liberation Sans", sans-serif' stroke="#333" stroke-width="0.25" textLength="15.3" lengthAdjust="spacingAndGlyphs" fill="#333">204.9</text><text x="111.7" y="247.66" font-size="6" font-family='"Liberation Sans", sans-serif' stroke="#333" stroke-width="0.25" textLength="15" lengthAdjust="spacingAndGlyphs" fill="#333">230.8</text><text x="122.3" y="159.76" font-size="6" font-family='"Liberation Sans", sans-serif' stroke="#333" stroke-width="0.25" textLength="15.5" lengthAdjust="spacingAndGlyphs" fill="#333">244.9</text><text x="143" y="251.46" font-size="6" font-family='"Liberation Sans", sans-serif' stroke="#333" stroke-width="0.25" textLength="15.2" lengthAdjust="spacingAndGlyphs" fill="#333">270.9</text><text x="103.3" y="149.99" font-size="5.8" font-family='"Liberation Sans", sans-serif' stroke="#222" stroke-width="0.25" textLength="72.6" lengthAdjust="spacingAndGlyphs" fill="#222">-MS2(289.1), 15.6min #424</text><text x="70.6" y="160.1" font-size="7.2" font-family='"Liberation Serif", serif' font-weight="bold" stroke="#000" stroke-width="0.3" textLength="38.6" lengthAdjust="spacingAndGlyphs" fill="#000">(c) catechin</text><path d="M165.5 254L167.46 256.3L165.5 258.6L163.54 256.3Z" fill="#16129a"/><line x1="55.7" y1="146.4" x2="55.7" y2="191" stroke="#222" stroke-width="0.9"/><line x1="54.3" y1="187.96" x2="55.7" y2="187.96" stroke="#222" stroke-width="0.7"/><line x1="54.3" y1="186.02" x2="55.7" y2="186.02" stroke="#222" stroke-width="0.7"/><line x1="54.3" y1="184.08" x2="55.7" y2="184.08" stroke="#222" stroke-width="0.7"/><line x1="54.3" y1="182.14" x2="55.7" y2="182.14" stroke="#222" stroke-width="0.7"/><line x1="54.3" y1="178.26" x2="55.7" y2="178.26" stroke="#222" stroke-width="0.7"/><line x1="54.3" y1="176.32" x2="55.7" y2="176.32" stroke="#222" stroke-width="0.7"/><line x1="54.3" y1="174.38" x2="55.7" y2="174.38" stroke="#222" stroke-width="0.7"/><line x1="54.3" y1="172.44" x2="55.7" y2="172.44" stroke="#222" stroke-width="0.7"/><line x1="54.3" y1="168.56" x2="55.7" y2="168.56" stroke="#222" stroke-width="0.7"/><line x1="54.3" y1="166.62" x2="55.7" y2="166.62" stroke="#222" stroke-width="0.7"/><line x1="54.3" y1="164.68" x2="55.7" y2="164.68" stroke="#222" stroke-width="0.7"/><line x1="54.3" y1="162.74" x2="55.7" y2="162.74" stroke="#222" stroke-width="0.7"/><line x1="54.3" y1="158.86" x2="55.7" y2="158.86" stroke="#222" stroke-width="0.7"/><line x1="54.3" y1="156.92" x2="55.7" y2="156.92" stroke="#222" stroke-width="0.7"/><line x1="54.3" y1="154.98" x2="55.7" y2="154.98" stroke="#222" stroke-width="0.7"/><line x1="54.3" y1="153.04" x2="55.7" y2="153.04" stroke="#222" stroke-width="0.7"/><line x1="54.3" y1="151.1" x2="55.7" y2="151.1" stroke="#222" stroke-width="0.7"/><line x1="54.3" y1="149.16" x2="55.7" y2="149.16" stroke="#222" stroke-width="0.7"/><line x1="54.3" y1="147.22" x2="55.7" y2="147.22" stroke="#222" stroke-width="0.7"/><line x1="53.3" y1="189.9" x2="55.7" y2="189.9" stroke="#222" stroke-width="0.9"/><line x1="53.3" y1="180.2" x2="55.7" y2="180.2" stroke="#222" stroke-width="0.9"/><line x1="53.3" y1="170.5" x2="55.7" y2="170.5" stroke="#222" stroke-width="0.9"/><line x1="53.3" y1="160.8" x2="55.7" y2="160.8" stroke="#222" stroke-width="0.9"/><text x="49.3" y="162.96" font-size="6" font-family='"Liberation Sans", sans-serif' text-anchor="end" stroke="#333" stroke-width="0.25" fill="#333">75</text><text x="49.3" y="172.66" font-size="6" font-family='"Liberation Sans", sans-serif' text-anchor="end" stroke="#333" stroke-width="0.25" fill="#333">50</text><text x="49.3" y="182.36" font-size="6" font-family='"Liberation Sans", sans-serif' text-anchor="end" stroke="#333" stroke-width="0.25" fill="#333">25</text><text x="49.3" y="192.06" font-size="6" font-family='"Liberation Sans", sans-serif' text-anchor="end" stroke="#333" stroke-width="0.25" fill="#333">0</text><text x="37.3" y="151.82" font-size="5.6" font-family='"Liberation Sans", sans-serif' stroke="#222" stroke-width="0.25" textLength="11.8" lengthAdjust="spacingAndGlyphs" fill="#222">mAU</text><line x1="55.9" y1="191" x2="101.2" y2="191" stroke="#222" stroke-width="1.2"/><line x1="59.38" y1="191" x2="59.38" y2="192.3" stroke="#222" stroke-width="0.7"/><line x1="61.66" y1="191" x2="61.66" y2="192.3" stroke="#222" stroke-width="0.7"/><line x1="63.94" y1="191" x2="63.94" y2="192.3" stroke="#222" stroke-width="0.7"/><line x1="66.22" y1="191" x2="66.22" y2="192.3" stroke="#222" stroke-width="0.7"/><line x1="68.5" y1="191" x2="68.5" y2="192.3" stroke="#222" stroke-width="0.7"/><line x1="70.78" y1="191" x2="70.78" y2="192.3" stroke="#222" stroke-width="0.7"/><line x1="73.06" y1="191" x2="73.06" y2="192.3" stroke="#222" stroke-width="0.7"/><line x1="75.34" y1="191" x2="75.34" y2="192.3" stroke="#222" stroke-width="0.7"/><line x1="77.62" y1="191" x2="77.62" y2="192.3" stroke="#222" stroke-width="0.7"/><line x1="82.18" y1="191" x2="82.18" y2="192.3" stroke="#222" stroke-width="0.7"/><line x1="84.46" y1="191" x2="84.46" y2="192.3" stroke="#222" stroke-width="0.7"/><line x1="86.74" y1="191" x2="86.74" y2="192.3" stroke="#222" stroke-width="0.7"/><line x1="89.02" y1="191" x2="89.02" y2="192.3" stroke="#222" stroke-width="0.7"/><line x1="91.3" y1="191" x2="91.3" y2="192.3" stroke="#222" stroke-width="0.7"/><line x1="93.58" y1="191" x2="93.58" y2="192.3" stroke="#222" stroke-width="0.7"/><line x1="95.86" y1="191" x2="95.86" y2="192.3" stroke="#222" stroke-width="0.7"/><line x1="98.14" y1="191" x2="98.14" y2="192.3" stroke="#222" stroke-width="0.7"/><line x1="100.42" y1="191" x2="100.42" y2="192.3" stroke="#222" stroke-width="0.7"/><line x1="57.1" y1="191" x2="57.1" y2="193.2" stroke="#222" stroke-width="0.9"/><line x1="79.9" y1="191" x2="79.9" y2="193.2" stroke="#222" stroke-width="0.9"/><text x="57.1" y="200.96" font-size="6" font-family='"Liberation Sans", sans-serif' text-anchor="middle" stroke="#333" stroke-width="0.25" fill="#333">200</text><text x="79.9" y="200.96" font-size="6" font-family='"Liberation Sans", sans-serif' text-anchor="middle" stroke="#333" stroke-width="0.25" fill="#333">300</text><text x="93.5" y="201.02" font-size="5.6" font-family='"Liberation Sans", sans-serif' stroke="#222" stroke-width="0.25" textLength="7.5" lengthAdjust="spacingAndGlyphs" fill="#222">nm</text><line x1="56.2" y1="183.6" x2="57.3" y2="184.3" stroke="#2424a0" stroke-width="1.9" stroke-linecap="round"/><path d="M55.9 183.6 C56.13 183.72 56.78 184.48 57.3 184.3 C57.82 184.12 58.48 183.3 59 182.5 C59.52 181.7 59.97 180.92 60.4 179.5 C60.83 178.08 61.2 177.25 61.6 174 C62 170.75 62.37 164.42 62.8 160 C63.23 155.58 63.78 147.83 64.2 147.5 C64.62 147.17 64.95 153.92 65.3 158 C65.65 162.08 65.92 167.75 66.3 172 C66.68 176.25 67.15 180.95 67.6 183.5 C68.05 186.05 68.43 186.8 69 187.3 C69.57 187.8 70.33 187.22 71 186.5 C71.67 185.78 72.25 183.97 73 183 C73.75 182.03 74.75 180.7 75.5 180.7 C76.25 180.7 76.92 181.95 77.5 183 C78.08 184.05 78.5 186.03 79 187 C79.5 187.97 79.67 188.42 80.5 188.8 C81.33 189.18 80.58 189.22 84 189.3 C87.42 189.38 98.17 189.3 101 189.3" fill="none" stroke="#6868e6" stroke-width="1.1" stroke-linejoin="round"/><text x="72.4" y="177.32" font-size="7" font-family='"Liberation Serif", serif' font-weight="bold" stroke="#000" stroke-width="0.35" textLength="10.6" lengthAdjust="spacingAndGlyphs" fill="#000">280</text><line x1="224.4" y1="144.7" x2="224.4" y2="261.1" stroke="#222" stroke-width="0.9"/><line x1="222.8" y1="256.9" x2="224.4" y2="256.9" stroke="#222" stroke-width="0.7"/><line x1="222.8" y1="252.81" x2="224.4" y2="252.81" stroke="#222" stroke-width="0.7"/><line x1="222.8" y1="248.71" x2="224.4" y2="248.71" stroke="#222" stroke-width="0.7"/><line x1="222.8" y1="244.62" x2="224.4" y2="244.62" stroke="#222" stroke-width="0.7"/><line x1="222.8" y1="236.42" x2="224.4" y2="236.42" stroke="#222" stroke-width="0.7"/><line x1="222.8" y1="232.33" x2="224.4" y2="232.33" stroke="#222" stroke-width="0.7"/><line x1="222.8" y1="228.23" x2="224.4" y2="228.23" stroke="#222" stroke-width="0.7"/><line x1="222.8" y1="224.14" x2="224.4" y2="224.14" stroke="#222" stroke-width="0.7"/><line x1="222.8" y1="215.94" x2="224.4" y2="215.94" stroke="#222" stroke-width="0.7"/><line x1="222.8" y1="211.85" x2="224.4" y2="211.85" stroke="#222" stroke-width="0.7"/><line x1="222.8" y1="207.75" x2="224.4" y2="207.75" stroke="#222" stroke-width="0.7"/><line x1="222.8" y1="203.66" x2="224.4" y2="203.66" stroke="#222" stroke-width="0.7"/><line x1="222.8" y1="195.46" x2="224.4" y2="195.46" stroke="#222" stroke-width="0.7"/><line x1="222.8" y1="191.37" x2="224.4" y2="191.37" stroke="#222" stroke-width="0.7"/><line x1="222.8" y1="187.27" x2="224.4" y2="187.27" stroke="#222" stroke-width="0.7"/><line x1="222.8" y1="183.18" x2="224.4" y2="183.18" stroke="#222" stroke-width="0.7"/><line x1="222.8" y1="174.98" x2="224.4" y2="174.98" stroke="#222" stroke-width="0.7"/><line x1="222.8" y1="170.89" x2="224.4" y2="170.89" stroke="#222" stroke-width="0.7"/><line x1="222.8" y1="166.79" x2="224.4" y2="166.79" stroke="#222" stroke-width="0.7"/><line x1="222.8" y1="162.7" x2="224.4" y2="162.7" stroke="#222" stroke-width="0.7"/><line x1="222.8" y1="154.5" x2="224.4" y2="154.5" stroke="#222" stroke-width="0.7"/><line x1="222.8" y1="150.41" x2="224.4" y2="150.41" stroke="#222" stroke-width="0.7"/><line x1="222.8" y1="146.31" x2="224.4" y2="146.31" stroke="#222" stroke-width="0.7"/><line x1="221.6" y1="261" x2="224.4" y2="261" stroke="#222" stroke-width="0.9"/><line x1="221.6" y1="240.52" x2="224.4" y2="240.52" stroke="#222" stroke-width="0.9"/><line x1="221.6" y1="220.04" x2="224.4" y2="220.04" stroke="#222" stroke-width="0.9"/><line x1="221.6" y1="199.56" x2="224.4" y2="199.56" stroke="#222" stroke-width="0.9"/><line x1="221.6" y1="179.08" x2="224.4" y2="179.08" stroke="#222" stroke-width="0.9"/><line x1="221.6" y1="158.6" x2="224.4" y2="158.6" stroke="#222" stroke-width="0.9"/><text x="219.6" y="160.76" font-size="6" font-family='"Liberation Sans", sans-serif' text-anchor="end" stroke="#333" stroke-width="0.25" fill="#333">1.25</text><text x="219.6" y="181.24" font-size="6" font-family='"Liberation Sans", sans-serif' text-anchor="end" stroke="#333" stroke-width="0.25" fill="#333">1.00</text><text x="219.6" y="201.72" font-size="6" font-family='"Liberation Sans", sans-serif' text-anchor="end" stroke="#333" stroke-width="0.25" fill="#333">0.75</text><text x="219.6" y="222.2" font-size="6" font-family='"Liberation Sans", sans-serif' text-anchor="end" stroke="#333" stroke-width="0.25" fill="#333">0.50</text><text x="219.6" y="242.68" font-size="6" font-family='"Liberation Sans", sans-serif' text-anchor="end" stroke="#333" stroke-width="0.25" fill="#333">0.25</text><text x="202.4" y="148.42" font-size="5.6" font-family='"Liberation Sans", sans-serif' stroke="#222" stroke-width="0.25" textLength="16.7" lengthAdjust="spacingAndGlyphs" fill="#222">Intens.</text><text x="206.8" y="156.32" font-size="5.6" font-family='"Liberation Sans", sans-serif' stroke="#222" stroke-width="0.25" textLength="10.7" lengthAdjust="spacingAndGlyphs" fill="#222">x10</text><text x="217.5" y="153.99" font-size="4" font-family='"Liberation Sans", sans-serif' stroke="#222" stroke-width="0.2" textLength="2.1" lengthAdjust="spacingAndGlyphs" fill="#222">4</text><line x1="224.4" y1="260.7" x2="372" y2="260.7" stroke="#222" stroke-width="1.2"/><line x1="228.85" y1="260.7" x2="228.85" y2="262.5" stroke="#222" stroke-width="0.7"/><line x1="250.95" y1="260.7" x2="250.95" y2="262.5" stroke="#222" stroke-width="0.7"/><line x1="273.4" y1="260.7" x2="273.4" y2="262.5" stroke="#222" stroke-width="0.7"/><line x1="296.65" y1="260.7" x2="296.65" y2="262.5" stroke="#222" stroke-width="0.7"/><line x1="319.6" y1="260.7" x2="319.6" y2="262.5" stroke="#222" stroke-width="0.7"/><line x1="342.05" y1="260.7" x2="342.05" y2="262.5" stroke="#222" stroke-width="0.7"/><line x1="364.75" y1="260.7" x2="364.75" y2="262.5" stroke="#222" stroke-width="0.7"/><line x1="239.9" y1="260.7" x2="239.9" y2="263.5" stroke="#222" stroke-width="0.9"/><line x1="262" y1="260.7" x2="262" y2="263.5" stroke="#222" stroke-width="0.9"/><line x1="284.8" y1="260.7" x2="284.8" y2="263.5" stroke="#222" stroke-width="0.9"/><line x1="308.5" y1="260.7" x2="308.5" y2="263.5" stroke="#222" stroke-width="0.9"/><line x1="330.7" y1="260.7" x2="330.7" y2="263.5" stroke="#222" stroke-width="0.9"/><line x1="353.4" y1="260.7" x2="353.4" y2="263.5" stroke="#222" stroke-width="0.9"/><text x="239.9" y="270.16" font-size="6" font-family='"Liberation Sans", sans-serif' text-anchor="middle" stroke="#333" stroke-width="0.25" fill="#333">300</text><text x="262" y="270.16" font-size="6" font-family='"Liberation Sans", sans-serif' text-anchor="middle" stroke="#333" stroke-width="0.25" fill="#333">400</text><text x="284.8" y="270.16" font-size="6" font-family='"Liberation Sans", sans-serif' text-anchor="middle" stroke="#333" stroke-width="0.25" fill="#333">500</text><text x="308.5" y="270.16" font-size="6" font-family='"Liberation Sans", sans-serif' text-anchor="middle" stroke="#333" stroke-width="0.25" fill="#333">600</text><text x="330.7" y="270.16" font-size="6" font-family='"Liberation Sans", sans-serif' text-anchor="middle" stroke="#333" stroke-width="0.25" fill="#333">700</text><text x="353.4" y="270.16" font-size="6" font-family='"Liberation Sans", sans-serif' text-anchor="middle" stroke="#333" stroke-width="0.25" fill="#333">800</text><text x="365.2" y="270.02" font-size="5.6" font-family='"Liberation Sans", sans-serif' stroke="#222" stroke-width="0.25" textLength="7" lengthAdjust="spacingAndGlyphs" fill="#222">m/z</text><line x1="227.6" y1="253.8" x2="227.6" y2="260.7" stroke="#111" stroke-width="0.9"/><line x1="228.8" y1="254.9" x2="228.8" y2="260.7" stroke="#111" stroke-width="0.8"/><line x1="235.5" y1="248.5" x2="235.5" y2="260.7" stroke="#111" stroke-width="0.9"/><line x1="236.6" y1="249.5" x2="236.6" y2="260.7" stroke="#111" stroke-width="0.9"/><line x1="237.6" y1="218.1" x2="237.6" y2="260.7" stroke="#111" stroke-width="1"/><line x1="238.7" y1="254.1" x2="238.7" y2="260.7" stroke="#111" stroke-width="0.9"/><line x1="239.8" y1="254.9" x2="239.8" y2="260.7" stroke="#111" stroke-width="0.9"/><line x1="248.3" y1="258.3" x2="248.3" y2="260.7" stroke="#111" stroke-width="0.8"/><line x1="258.9" y1="257.6" x2="258.9" y2="260.7" stroke="#111" stroke-width="0.8"/><line x1="264.2" y1="165.6" x2="264.2" y2="260.7" stroke="#111" stroke-width="1"/><line x1="264.6" y1="249.3" x2="264.6" y2="260.7" stroke="#111" stroke-width="1.1"/><line x1="268.5" y1="203.9" x2="268.5" y2="260.7" stroke="#111" stroke-width="1"/><line x1="268.8" y1="252.5" x2="268.8" y2="260.7" stroke="#111" stroke-width="1.1"/><line x1="274.2" y1="242.5" x2="274.2" y2="260.7" stroke="#111" stroke-width="1"/><line x1="299" y1="257.3" x2="299" y2="260.7" stroke="#111" stroke-width="0.8"/><text x="229.6" y="215.96" font-size="6" font-family='"Liberation Sans", sans-serif' stroke="#333" stroke-width="0.25" textLength="15.7" lengthAdjust="spacingAndGlyphs" fill="#333">288.9</text><text x="256.3" y="161.76" font-size="6" font-family='"Liberation Sans", sans-serif' stroke="#333" stroke-width="0.25" textLength="16.2" lengthAdjust="spacingAndGlyphs" fill="#333">407.0</text><text x="266" y="200.06" font-size="6" font-family='"Liberation Sans", sans-serif' stroke="#333" stroke-width="0.25" textLength="15.2" lengthAdjust="spacingAndGlyphs" fill="#333">425.0</text><text x="270.6" y="238.06" font-size="6" font-family='"Liberation Sans", sans-serif' stroke="#333" stroke-width="0.25" textLength="16.7" lengthAdjust="spacingAndGlyphs" fill="#333">451.0</text><text x="291.2" y="254.26" font-size="6" font-family='"Liberation Sans", sans-serif' stroke="#333" stroke-width="0.25" textLength="15.4" lengthAdjust="spacingAndGlyphs" fill="#333">559.0</text><text x="276.8" y="160.6" font-size="7.2" font-family='"Liberation Serif", serif' font-weight="bold" stroke="#000" stroke-width="0.3" textLength="9.9" lengthAdjust="spacingAndGlyphs" fill="#000">(d)</text><text x="291.1" y="160.6" font-size="7.2" font-family='"Liberation Serif", serif' font-weight="bold" stroke="#000" stroke-width="0.3" textLength="42.2" lengthAdjust="spacingAndGlyphs" fill="#000">Procyanin B1</text><text x="295.5" y="150.59" font-size="5.8" font-family='"Liberation Sans", sans-serif' stroke="#222" stroke-width="0.25" textLength="76.1" lengthAdjust="spacingAndGlyphs" fill="#222">-MS2(577.3), 12.2min #523</text><path d="M303.3 257L305.25 259.3L303.3 261.6L301.35 259.3Z" fill="#16129a"/><line x1="325.5" y1="167.1" x2="325.5" y2="211.5" stroke="#222" stroke-width="0.9"/><line x1="324.1" y1="208.51" x2="325.5" y2="208.51" stroke="#222" stroke-width="0.7"/><line x1="324.1" y1="206.63" x2="325.5" y2="206.63" stroke="#222" stroke-width="0.7"/><line x1="324.1" y1="204.74" x2="325.5" y2="204.74" stroke="#222" stroke-width="0.7"/><line x1="324.1" y1="202.85" x2="325.5" y2="202.85" stroke="#222" stroke-width="0.7"/><line x1="324.1" y1="199.08" x2="325.5" y2="199.08" stroke="#222" stroke-width="0.7"/><line x1="324.1" y1="197.19" x2="325.5" y2="197.19" stroke="#222" stroke-width="0.7"/><line x1="324.1" y1="195.31" x2="325.5" y2="195.31" stroke="#222" stroke-width="0.7"/><line x1="324.1" y1="193.42" x2="325.5" y2="193.42" stroke="#222" stroke-width="0.7"/><line x1="324.1" y1="189.65" x2="325.5" y2="189.65" stroke="#222" stroke-width="0.7"/><line x1="324.1" y1="187.76" x2="325.5" y2="187.76" stroke="#222" stroke-width="0.7"/><line x1="324.1" y1="185.87" x2="325.5" y2="185.87" stroke="#222" stroke-width="0.7"/><line x1="324.1" y1="183.99" x2="325.5" y2="183.99" stroke="#222" stroke-width="0.7"/><line x1="324.1" y1="180.21" x2="325.5" y2="180.21" stroke="#222" stroke-width="0.7"/><line x1="324.1" y1="178.33" x2="325.5" y2="178.33" stroke="#222" stroke-width="0.7"/><line x1="324.1" y1="176.44" x2="325.5" y2="176.44" stroke="#222" stroke-width="0.7"/><line x1="324.1" y1="174.55" x2="325.5" y2="174.55" stroke="#222" stroke-width="0.7"/><line x1="324.1" y1="172.67" x2="325.5" y2="172.67" stroke="#222" stroke-width="0.7"/><line x1="324.1" y1="170.78" x2="325.5" y2="170.78" stroke="#222" stroke-width="0.7"/><line x1="324.1" y1="168.89" x2="325.5" y2="168.89" stroke="#222" stroke-width="0.7"/><line x1="323.1" y1="210.4" x2="325.5" y2="210.4" stroke="#222" stroke-width="0.9"/><line x1="323.1" y1="200.97" x2="325.5" y2="200.97" stroke="#222" stroke-width="0.9"/><line x1="323.1" y1="191.53" x2="325.5" y2="191.53" stroke="#222" stroke-width="0.9"/><line x1="323.1" y1="182.1" x2="325.5" y2="182.1" stroke="#222" stroke-width="0.9"/><text x="318.9" y="184.26" font-size="6" font-family='"Liberation Sans", sans-serif' text-anchor="end" stroke="#333" stroke-width="0.25" fill="#333">60</text><text x="318.9" y="193.69" font-size="6" font-family='"Liberation Sans", sans-serif' text-anchor="end" stroke="#333" stroke-width="0.25" fill="#333">40</text><text x="318.9" y="203.13" font-size="6" font-family='"Liberation Sans", sans-serif' text-anchor="end" stroke="#333" stroke-width="0.25" fill="#333">20</text><text x="318.9" y="212.56" font-size="6" font-family='"Liberation Sans", sans-serif' text-anchor="end" stroke="#333" stroke-width="0.25" fill="#333">0</text><text x="307.2" y="172.32" font-size="5.6" font-family='"Liberation Sans", sans-serif' stroke="#222" stroke-width="0.25" textLength="11.6" lengthAdjust="spacingAndGlyphs" fill="#222">mAU</text><line x1="325.5" y1="211.5" x2="371.5" y2="211.5" stroke="#222" stroke-width="1.2"/><line x1="328.9" y1="211.5" x2="328.9" y2="212.8" stroke="#222" stroke-width="0.7"/><line x1="331.2" y1="211.5" x2="331.2" y2="212.8" stroke="#222" stroke-width="0.7"/><line x1="333.5" y1="211.5" x2="333.5" y2="212.8" stroke="#222" stroke-width="0.7"/><line x1="335.8" y1="211.5" x2="335.8" y2="212.8" stroke="#222" stroke-width="0.7"/><line x1="338.1" y1="211.5" x2="338.1" y2="212.8" stroke="#222" stroke-width="0.7"/><line x1="340.4" y1="211.5" x2="340.4" y2="212.8" stroke="#222" stroke-width="0.7"/><line x1="342.7" y1="211.5" x2="342.7" y2="212.8" stroke="#222" stroke-width="0.7"/><line x1="345" y1="211.5" x2="345" y2="212.8" stroke="#222" stroke-width="0.7"/><line x1="347.3" y1="211.5" x2="347.3" y2="212.8" stroke="#222" stroke-width="0.7"/><line x1="351.9" y1="211.5" x2="351.9" y2="212.8" stroke="#222" stroke-width="0.7"/><line x1="354.2" y1="211.5" x2="354.2" y2="212.8" stroke="#222" stroke-width="0.7"/><line x1="356.5" y1="211.5" x2="356.5" y2="212.8" stroke="#222" stroke-width="0.7"/><line x1="358.8" y1="211.5" x2="358.8" y2="212.8" stroke="#222" stroke-width="0.7"/><line x1="361.1" y1="211.5" x2="361.1" y2="212.8" stroke="#222" stroke-width="0.7"/><line x1="363.4" y1="211.5" x2="363.4" y2="212.8" stroke="#222" stroke-width="0.7"/><line x1="365.7" y1="211.5" x2="365.7" y2="212.8" stroke="#222" stroke-width="0.7"/><line x1="368" y1="211.5" x2="368" y2="212.8" stroke="#222" stroke-width="0.7"/><line x1="370.3" y1="211.5" x2="370.3" y2="212.8" stroke="#222" stroke-width="0.7"/><line x1="326.6" y1="211.5" x2="326.6" y2="213.7" stroke="#222" stroke-width="0.9"/><line x1="349.6" y1="211.5" x2="349.6" y2="213.7" stroke="#222" stroke-width="0.9"/><text x="326.6" y="222.46" font-size="6" font-family='"Liberation Sans", sans-serif' text-anchor="middle" stroke="#333" stroke-width="0.25" fill="#333">200</text><text x="349.6" y="222.46" font-size="6" font-family='"Liberation Sans", sans-serif' text-anchor="middle" stroke="#333" stroke-width="0.25" fill="#333">300</text><text x="362.5" y="222.52" font-size="5.6" font-family='"Liberation Sans", sans-serif' stroke="#222" stroke-width="0.25" textLength="7.5" lengthAdjust="spacingAndGlyphs" fill="#222">nm</text><line x1="325.8" y1="205.3" x2="326.39" y2="203.51" stroke="#2424a0" stroke-width="1.9" stroke-linecap="round"/><path d="M325.5 205.3 C325.78 204.73 326.52 202.53 327.2 201.9 C327.88 201.27 328.88 202.4 329.6 201.5 C330.32 200.6 330.98 199.75 331.5 196.5 C332.02 193.25 332.33 186.72 332.7 182 C333.07 177.28 333.33 169.37 333.7 168.2 C334.07 167.03 334.47 172.03 334.9 175 C335.33 177.97 335.82 183 336.3 186 C336.78 189 337.3 190.17 337.8 193 C338.3 195.83 338.8 200.63 339.3 203 C339.8 205.37 340.27 206.7 340.8 207.2 C341.33 207.7 341.97 206.65 342.5 206 C343.03 205.35 343.42 203.92 344 203.3 C344.58 202.68 345.4 202.02 346 202.3 C346.6 202.58 347.1 203.78 347.6 205 C348.1 206.22 348.43 208.7 349 209.6 C349.57 210.5 347.33 210.27 351 210.4 C354.67 210.53 367.67 210.4 371 210.4" fill="none" stroke="#6868e6" stroke-width="1.1" stroke-linejoin="round"/><text x="342.9" y="198.52" font-size="7" font-family='"Liberation Serif", serif' font-weight="bold" stroke="#000" stroke-width="0.35" textLength="10.6" lengthAdjust="spacingAndGlyphs" fill="#000">280</text><line x1="27.2" y1="283.9" x2="27.2" y2="401" stroke="#222" stroke-width="0.9"/><line x1="25.6" y1="394.93" x2="27.2" y2="394.93" stroke="#222" stroke-width="0.7"/><line x1="25.6" y1="389.45" x2="27.2" y2="389.45" stroke="#222" stroke-width="0.7"/><line x1="25.6" y1="383.98" x2="27.2" y2="383.98" stroke="#222" stroke-width="0.7"/><line x1="25.6" y1="378.51" x2="27.2" y2="378.51" stroke="#222" stroke-width="0.7"/><line x1="25.6" y1="367.56" x2="27.2" y2="367.56" stroke="#222" stroke-width="0.7"/><line x1="25.6" y1="362.09" x2="27.2" y2="362.09" stroke="#222" stroke-width="0.7"/><line x1="25.6" y1="356.61" x2="27.2" y2="356.61" stroke="#222" stroke-width="0.7"/><line x1="25.6" y1="351.14" x2="27.2" y2="351.14" stroke="#222" stroke-width="0.7"/><line x1="25.6" y1="340.19" x2="27.2" y2="340.19" stroke="#222" stroke-width="0.7"/><line x1="25.6" y1="334.72" x2="27.2" y2="334.72" stroke="#222" stroke-width="0.7"/><line x1="25.6" y1="329.25" x2="27.2" y2="329.25" stroke="#222" stroke-width="0.7"/><line x1="25.6" y1="323.77" x2="27.2" y2="323.77" stroke="#222" stroke-width="0.7"/><line x1="25.6" y1="312.83" x2="27.2" y2="312.83" stroke="#222" stroke-width="0.7"/><line x1="25.6" y1="307.35" x2="27.2" y2="307.35" stroke="#222" stroke-width="0.7"/><line x1="25.6" y1="301.88" x2="27.2" y2="301.88" stroke="#222" stroke-width="0.7"/><line x1="25.6" y1="296.41" x2="27.2" y2="296.41" stroke="#222" stroke-width="0.7"/><line x1="25.6" y1="285.46" x2="27.2" y2="285.46" stroke="#222" stroke-width="0.7"/><line x1="24.4" y1="400.4" x2="27.2" y2="400.4" stroke="#222" stroke-width="0.9"/><line x1="24.4" y1="373.03" x2="27.2" y2="373.03" stroke="#222" stroke-width="0.9"/><line x1="24.4" y1="345.67" x2="27.2" y2="345.67" stroke="#222" stroke-width="0.9"/><line x1="24.4" y1="318.3" x2="27.2" y2="318.3" stroke="#222" stroke-width="0.9"/><line x1="24.4" y1="290.93" x2="27.2" y2="290.93" stroke="#222" stroke-width="0.9"/><text x="22.6" y="320.46" font-size="6" font-family='"Liberation Sans", sans-serif' text-anchor="end" stroke="#333" stroke-width="0.25" fill="#333">1.5</text><text x="22.6" y="347.83" font-size="6" font-family='"Liberation Sans", sans-serif' text-anchor="end" stroke="#333" stroke-width="0.25" fill="#333">1.0</text><text x="22.6" y="375.19" font-size="6" font-family='"Liberation Sans", sans-serif' text-anchor="end" stroke="#333" stroke-width="0.25" fill="#333">0.5</text><text x="6" y="288.42" font-size="5.6" font-family='"Liberation Sans", sans-serif' stroke="#222" stroke-width="0.25" textLength="17.9" lengthAdjust="spacingAndGlyphs" fill="#222">Intens.</text><text x="9.9" y="295.52" font-size="5.6" font-family='"Liberation Sans", sans-serif' stroke="#222" stroke-width="0.25" textLength="10" lengthAdjust="spacingAndGlyphs" fill="#222">x10</text><text x="19.9" y="293.99" font-size="4" font-family='"Liberation Sans", sans-serif' stroke="#222" stroke-width="0.2" textLength="2.8" lengthAdjust="spacingAndGlyphs" fill="#222">6</text><line x1="27.2" y1="400.5" x2="152.5" y2="400.5" stroke="#222" stroke-width="1.2"/><line x1="32.64" y1="400.5" x2="32.64" y2="402.3" stroke="#222" stroke-width="0.7"/><line x1="45.36" y1="400.5" x2="45.36" y2="402.3" stroke="#222" stroke-width="0.7"/><line x1="51.72" y1="400.5" x2="51.72" y2="402.3" stroke="#222" stroke-width="0.7"/><line x1="58.08" y1="400.5" x2="58.08" y2="402.3" stroke="#222" stroke-width="0.7"/><line x1="64.44" y1="400.5" x2="64.44" y2="402.3" stroke="#222" stroke-width="0.7"/><line x1="77.16" y1="400.5" x2="77.16" y2="402.3" stroke="#222" stroke-width="0.7"/><line x1="83.52" y1="400.5" x2="83.52" y2="402.3" stroke="#222" stroke-width="0.7"/><line x1="89.88" y1="400.5" x2="89.88" y2="402.3" stroke="#222" stroke-width="0.7"/><line x1="96.24" y1="400.5" x2="96.24" y2="402.3" stroke="#222" stroke-width="0.7"/><line x1="108.96" y1="400.5" x2="108.96" y2="402.3" stroke="#222" stroke-width="0.7"/><line x1="115.32" y1="400.5" x2="115.32" y2="402.3" stroke="#222" stroke-width="0.7"/><line x1="121.68" y1="400.5" x2="121.68" y2="402.3" stroke="#222" stroke-width="0.7"/><line x1="128.04" y1="400.5" x2="128.04" y2="402.3" stroke="#222" stroke-width="0.7"/><line x1="140.76" y1="400.5" x2="140.76" y2="402.3" stroke="#222" stroke-width="0.7"/><line x1="147.12" y1="400.5" x2="147.12" y2="402.3" stroke="#222" stroke-width="0.7"/><line x1="39" y1="400.5" x2="39" y2="403.3" stroke="#222" stroke-width="0.9"/><line x1="70.8" y1="400.5" x2="70.8" y2="403.3" stroke="#222" stroke-width="0.9"/><line x1="102.6" y1="400.5" x2="102.6" y2="403.3" stroke="#222" stroke-width="0.9"/><line x1="134.4" y1="400.5" x2="134.4" y2="403.3" stroke="#222" stroke-width="0.9"/><text x="39" y="409.16" font-size="6" font-family='"Liberation Sans", sans-serif' text-anchor="middle" stroke="#333" stroke-width="0.25" fill="#333">150</text><text x="70.8" y="409.16" font-size="6" font-family='"Liberation Sans", sans-serif' text-anchor="middle" stroke="#333" stroke-width="0.25" fill="#333">200</text><text x="102.6" y="409.16" font-size="6" font-family='"Liberation Sans", sans-serif' text-anchor="middle" stroke="#333" stroke-width="0.25" fill="#333">250</text><text x="134.4" y="409.16" font-size="6" font-family='"Liberation Sans", sans-serif' text-anchor="middle" stroke="#333" stroke-width="0.25" fill="#333">300</text><text x="141" y="409.02" font-size="5.6" font-family='"Liberation Sans", sans-serif' stroke="#222" stroke-width="0.25" textLength="9" lengthAdjust="spacingAndGlyphs" fill="#222">m/z</text><line x1="38.5" y1="303" x2="38.5" y2="400.5" stroke="#222" stroke-width="1"/><line x1="38.9" y1="360.5" x2="38.9" y2="400.5" stroke="#222" stroke-width="1.3"/><line x1="43" y1="397" x2="43" y2="400.5" stroke="#222" stroke-width="0.7"/><line x1="47.7" y1="397.5" x2="47.7" y2="400.5" stroke="#222" stroke-width="0.7"/><line x1="56.8" y1="305.6" x2="56.8" y2="400.5" stroke="#222" stroke-width="1"/><line x1="58.9" y1="397" x2="58.9" y2="400.5" stroke="#222" stroke-width="0.8"/><line x1="61" y1="397.5" x2="61" y2="400.5" stroke="#222" stroke-width="0.7"/><line x1="64.4" y1="395.3" x2="64.4" y2="400.5" stroke="#222" stroke-width="0.9"/><line x1="72" y1="397.5" x2="72" y2="400.5" stroke="#222" stroke-width="0.7"/><line x1="79" y1="397" x2="79" y2="400.5" stroke="#222" stroke-width="0.8"/><line x1="89" y1="396.5" x2="89" y2="400.5" stroke="#222" stroke-width="0.9"/><line x1="92" y1="397.5" x2="92" y2="400.5" stroke="#222" stroke-width="0.7"/><line x1="96.8" y1="397" x2="96.8" y2="400.5" stroke="#222" stroke-width="0.8"/><line x1="101" y1="398" x2="101" y2="400.5" stroke="#222" stroke-width="0.7"/><line x1="107.9" y1="396.5" x2="107.9" y2="400.5" stroke="#222" stroke-width="0.9"/><line x1="112" y1="398" x2="112" y2="400.5" stroke="#222" stroke-width="0.7"/><line x1="119" y1="393.7" x2="119" y2="400.5" stroke="#222" stroke-width="0.9"/><text x="31.9" y="300.46" font-size="6" font-family='"Liberation Sans", sans-serif' stroke="#333" stroke-width="0.25" textLength="14.5" lengthAdjust="spacingAndGlyphs" fill="#333">150.8</text><text x="50.1" y="303.26" font-size="6" font-family='"Liberation Sans", sans-serif' stroke="#333" stroke-width="0.25" textLength="14.9" lengthAdjust="spacingAndGlyphs" fill="#333">178.8</text><text x="81.5" y="392.56" font-size="6" font-family='"Liberation Sans", sans-serif' stroke="#333" stroke-width="0.25" textLength="16.1" lengthAdjust="spacingAndGlyphs" fill="#333">228.9</text><text x="110.7" y="390.56" font-size="6" font-family='"Liberation Sans", sans-serif' stroke="#333" stroke-width="0.25" textLength="16.2" lengthAdjust="spacingAndGlyphs" fill="#333">272.9</text><text x="70.2" y="300.7" font-size="7.2" font-family='"Liberation Serif", serif' font-weight="bold" stroke="#000" stroke-width="0.3" textLength="42.9" lengthAdjust="spacingAndGlyphs" fill="#000">(e) Quercetin</text><text x="72.7" y="288.99" font-size="5.8" font-family='"Liberation Sans", sans-serif' stroke="#222" stroke-width="0.25" textLength="78.8" lengthAdjust="spacingAndGlyphs" fill="#222">-MS2(301.0), 50.6min #1384</text><path d="M136.3 395L138.26 397.3L136.3 399.6L134.34 397.3Z" fill="#16129a"/><line x1="106" y1="308.6" x2="106" y2="355.1" stroke="#222" stroke-width="0.9"/><line x1="104.6" y1="353.82" x2="106" y2="353.82" stroke="#222" stroke-width="0.7"/><line x1="104.6" y1="351.58" x2="106" y2="351.58" stroke="#222" stroke-width="0.7"/><line x1="104.6" y1="349.34" x2="106" y2="349.34" stroke="#222" stroke-width="0.7"/><line x1="104.6" y1="344.86" x2="106" y2="344.86" stroke="#222" stroke-width="0.7"/><line x1="104.6" y1="342.62" x2="106" y2="342.62" stroke="#222" stroke-width="0.7"/><line x1="104.6" y1="340.38" x2="106" y2="340.38" stroke="#222" stroke-width="0.7"/><line x1="104.6" y1="338.14" x2="106" y2="338.14" stroke="#222" stroke-width="0.7"/><line x1="104.6" y1="333.66" x2="106" y2="333.66" stroke="#222" stroke-width="0.7"/><line x1="104.6" y1="331.42" x2="106" y2="331.42" stroke="#222" stroke-width="0.7"/><line x1="104.6" y1="329.18" x2="106" y2="329.18" stroke="#222" stroke-width="0.7"/><line x1="104.6" y1="326.94" x2="106" y2="326.94" stroke="#222" stroke-width="0.7"/><line x1="104.6" y1="322.46" x2="106" y2="322.46" stroke="#222" stroke-width="0.7"/><line x1="104.6" y1="320.22" x2="106" y2="320.22" stroke="#222" stroke-width="0.7"/><line x1="104.6" y1="317.98" x2="106" y2="317.98" stroke="#222" stroke-width="0.7"/><line x1="104.6" y1="315.74" x2="106" y2="315.74" stroke="#222" stroke-width="0.7"/><line x1="104.6" y1="313.5" x2="106" y2="313.5" stroke="#222" stroke-width="0.7"/><line x1="104.6" y1="311.26" x2="106" y2="311.26" stroke="#222" stroke-width="0.7"/><line x1="104.6" y1="309.02" x2="106" y2="309.02" stroke="#222" stroke-width="0.7"/><line x1="103.6" y1="347.1" x2="106" y2="347.1" stroke="#222" stroke-width="0.9"/><line x1="103.6" y1="335.9" x2="106" y2="335.9" stroke="#222" stroke-width="0.9"/><line x1="103.6" y1="324.7" x2="106" y2="324.7" stroke="#222" stroke-width="0.9"/><text x="99.5" y="326.86" font-size="6" font-family='"Liberation Sans", sans-serif' text-anchor="end" stroke="#333" stroke-width="0.25" fill="#333">300</text><text x="99.5" y="338.06" font-size="6" font-family='"Liberation Sans", sans-serif' text-anchor="end" stroke="#333" stroke-width="0.25" fill="#333">200</text><text x="99.5" y="349.26" font-size="6" font-family='"Liberation Sans", sans-serif' text-anchor="end" stroke="#333" stroke-width="0.25" fill="#333">100</text><text x="87.4" y="313.72" font-size="5.6" font-family='"Liberation Sans", sans-serif' stroke="#222" stroke-width="0.25" textLength="12" lengthAdjust="spacingAndGlyphs" fill="#222">mAU</text><line x1="106" y1="355.1" x2="151.7" y2="355.1" stroke="#222" stroke-width="1.2"/><line x1="109.84" y1="355.1" x2="109.84" y2="356.4" stroke="#222" stroke-width="0.7"/><line x1="111.98" y1="355.1" x2="111.98" y2="356.4" stroke="#222" stroke-width="0.7"/><line x1="114.12" y1="355.1" x2="114.12" y2="356.4" stroke="#222" stroke-width="0.7"/><line x1="116.26" y1="355.1" x2="116.26" y2="356.4" stroke="#222" stroke-width="0.7"/><line x1="118.4" y1="355.1" x2="118.4" y2="356.4" stroke="#222" stroke-width="0.7"/><line x1="120.54" y1="355.1" x2="120.54" y2="356.4" stroke="#222" stroke-width="0.7"/><line x1="122.68" y1="355.1" x2="122.68" y2="356.4" stroke="#222" stroke-width="0.7"/><line x1="124.82" y1="355.1" x2="124.82" y2="356.4" stroke="#222" stroke-width="0.7"/><line x1="126.96" y1="355.1" x2="126.96" y2="356.4" stroke="#222" stroke-width="0.7"/><line x1="131.24" y1="355.1" x2="131.24" y2="356.4" stroke="#222" stroke-width="0.7"/><line x1="133.38" y1="355.1" x2="133.38" y2="356.4" stroke="#222" stroke-width="0.7"/><line x1="135.52" y1="355.1" x2="135.52" y2="356.4" stroke="#222" stroke-width="0.7"/><line x1="137.66" y1="355.1" x2="137.66" y2="356.4" stroke="#222" stroke-width="0.7"/><line x1="139.8" y1="355.1" x2="139.8" y2="356.4" stroke="#222" stroke-width="0.7"/><line x1="141.94" y1="355.1" x2="141.94" y2="356.4" stroke="#222" stroke-width="0.7"/><line x1="144.08" y1="355.1" x2="144.08" y2="356.4" stroke="#222" stroke-width="0.7"/><line x1="146.22" y1="355.1" x2="146.22" y2="356.4" stroke="#222" stroke-width="0.7"/><line x1="148.36" y1="355.1" x2="148.36" y2="356.4" stroke="#222" stroke-width="0.7"/><line x1="150.5" y1="355.1" x2="150.5" y2="356.4" stroke="#222" stroke-width="0.7"/><line x1="107.7" y1="355.1" x2="107.7" y2="357.3" stroke="#222" stroke-width="0.9"/><line x1="129.1" y1="355.1" x2="129.1" y2="357.3" stroke="#222" stroke-width="0.9"/><text x="107.7" y="363.06" font-size="6" font-family='"Liberation Sans", sans-serif' text-anchor="middle" stroke="#333" stroke-width="0.25" fill="#333">200</text><text x="129.1" y="363.06" font-size="6" font-family='"Liberation Sans", sans-serif' text-anchor="middle" stroke="#333" stroke-width="0.25" fill="#333">300</text><text x="143.5" y="363.02" font-size="5.6" font-family='"Liberation Sans", sans-serif' stroke="#222" stroke-width="0.25" textLength="7.5" lengthAdjust="spacingAndGlyphs" fill="#222">nm</text><line x1="106.2" y1="345" x2="107.49" y2="343.79" stroke="#2424a0" stroke-width="1.9" stroke-linecap="round"/><path d="M105.9 345 C106.38 344.63 107.95 343.8 108.8 342.8 C109.65 341.8 110.43 340.47 111 339 C111.57 337.53 111.87 337 112.2 334 C112.53 331 112.73 324.98 113 321 C113.27 317.02 113.5 310.1 113.8 310.1 C114.1 310.1 114.47 317.52 114.8 321 C115.13 324.48 115.45 328.62 115.8 331 C116.15 333.38 116.45 334.43 116.9 335.3 C117.35 336.17 117.93 335.92 118.5 336.2 C119.07 336.48 119.78 336.53 120.3 337 C120.82 337.47 121.12 337.67 121.6 339 C122.08 340.33 122.52 342.97 123.2 345 C123.88 347.03 124.82 350.1 125.7 351.2 C126.58 352.3 127.55 351.68 128.5 351.6 C129.45 351.52 130.43 351.08 131.4 350.7 C132.37 350.32 133.32 350 134.3 349.3 C135.28 348.6 136.28 347.58 137.3 346.5 C138.32 345.42 139.45 343.98 140.4 342.8 C141.35 341.62 142.2 340.27 143 339.4 C143.8 338.53 144.5 337.95 145.2 337.6 C145.9 337.25 146.57 337.07 147.2 337.3 C147.83 337.53 148.45 338.18 149 339 C149.55 339.82 150.05 341 150.5 342.2 C150.95 343.4 151.5 345.53 151.7 346.2" fill="none" stroke="#6868e6" stroke-width="1.1" stroke-linejoin="round"/><text x="118.3" y="331.02" font-size="7" font-family='"Liberation Serif", serif' font-weight="bold" stroke="#000" stroke-width="0.35" textLength="10.8" lengthAdjust="spacingAndGlyphs" fill="#000">256</text><text x="139.9" y="335.12" font-size="7" font-family='"Liberation Serif", serif' font-weight="bold" stroke="#000" stroke-width="0.35" textLength="10" lengthAdjust="spacingAndGlyphs" fill="#000">372</text><line x1="222.6" y1="284.5" x2="222.6" y2="399.6" stroke="#222" stroke-width="0.9"/><line x1="221" y1="394.56" x2="222.6" y2="394.56" stroke="#222" stroke-width="0.7"/><line x1="221" y1="390.52" x2="222.6" y2="390.52" stroke="#222" stroke-width="0.7"/><line x1="221" y1="386.48" x2="222.6" y2="386.48" stroke="#222" stroke-width="0.7"/><line x1="221" y1="382.44" x2="222.6" y2="382.44" stroke="#222" stroke-width="0.7"/><line x1="221" y1="374.36" x2="222.6" y2="374.36" stroke="#222" stroke-width="0.7"/><line x1="221" y1="370.32" x2="222.6" y2="370.32" stroke="#222" stroke-width="0.7"/><line x1="221" y1="366.28" x2="222.6" y2="366.28" stroke="#222" stroke-width="0.7"/><line x1="221" y1="362.24" x2="222.6" y2="362.24" stroke="#222" stroke-width="0.7"/><line x1="221" y1="354.16" x2="222.6" y2="354.16" stroke="#222" stroke-width="0.7"/><line x1="221" y1="350.12" x2="222.6" y2="350.12" stroke="#222" stroke-width="0.7"/><line x1="221" y1="346.08" x2="222.6" y2="346.08" stroke="#222" stroke-width="0.7"/><line x1="221" y1="342.04" x2="222.6" y2="342.04" stroke="#222" stroke-width="0.7"/><line x1="221" y1="333.96" x2="222.6" y2="333.96" stroke="#222" stroke-width="0.7"/><line x1="221" y1="329.92" x2="222.6" y2="329.92" stroke="#222" stroke-width="0.7"/><line x1="221" y1="325.88" x2="222.6" y2="325.88" stroke="#222" stroke-width="0.7"/><line x1="221" y1="321.84" x2="222.6" y2="321.84" stroke="#222" stroke-width="0.7"/><line x1="221" y1="313.76" x2="222.6" y2="313.76" stroke="#222" stroke-width="0.7"/><line x1="221" y1="309.72" x2="222.6" y2="309.72" stroke="#222" stroke-width="0.7"/><line x1="221" y1="305.68" x2="222.6" y2="305.68" stroke="#222" stroke-width="0.7"/><line x1="221" y1="301.64" x2="222.6" y2="301.64" stroke="#222" stroke-width="0.7"/><line x1="221" y1="293.56" x2="222.6" y2="293.56" stroke="#222" stroke-width="0.7"/><line x1="221" y1="289.52" x2="222.6" y2="289.52" stroke="#222" stroke-width="0.7"/><line x1="221" y1="285.48" x2="222.6" y2="285.48" stroke="#222" stroke-width="0.7"/><line x1="219.8" y1="398.6" x2="222.6" y2="398.6" stroke="#222" stroke-width="0.9"/><line x1="219.8" y1="378.4" x2="222.6" y2="378.4" stroke="#222" stroke-width="0.9"/><line x1="219.8" y1="358.2" x2="222.6" y2="358.2" stroke="#222" stroke-width="0.9"/><line x1="219.8" y1="338" x2="222.6" y2="338" stroke="#222" stroke-width="0.9"/><line x1="219.8" y1="317.8" x2="222.6" y2="317.8" stroke="#222" stroke-width="0.9"/><line x1="219.8" y1="297.6" x2="222.6" y2="297.6" stroke="#222" stroke-width="0.9"/><text x="217.8" y="319.96" font-size="6" font-family='"Liberation Sans", sans-serif' text-anchor="end" stroke="#333" stroke-width="0.25" fill="#333">4</text><text x="217.8" y="340.16" font-size="6" font-family='"Liberation Sans", sans-serif' text-anchor="end" stroke="#333" stroke-width="0.25" fill="#333">3</text><text x="217.8" y="360.36" font-size="6" font-family='"Liberation Sans", sans-serif' text-anchor="end" stroke="#333" stroke-width="0.25" fill="#333">2</text><text x="217.8" y="380.56" font-size="6" font-family='"Liberation Sans", sans-serif' text-anchor="end" stroke="#333" stroke-width="0.25" fill="#333">1</text><text x="217.8" y="400.76" font-size="6" font-family='"Liberation Sans", sans-serif' text-anchor="end" stroke="#333" stroke-width="0.25" fill="#333">0</text><text x="200.8" y="288.82" font-size="5.6" font-family='"Liberation Sans", sans-serif' stroke="#222" stroke-width="0.25" textLength="16.7" lengthAdjust="spacingAndGlyphs" fill="#222">Intens.</text><text x="205.1" y="296.32" font-size="5.6" font-family='"Liberation Sans", sans-serif' stroke="#222" stroke-width="0.25" textLength="10.8" lengthAdjust="spacingAndGlyphs" fill="#222">x10</text><text x="215.9" y="293.09" font-size="4" font-family='"Liberation Sans", sans-serif' stroke="#222" stroke-width="0.2" textLength="2.1" lengthAdjust="spacingAndGlyphs" fill="#222">5</text><line x1="222.6" y1="399.1" x2="371.9" y2="399.1" stroke="#222" stroke-width="1.2"/><line x1="224.05" y1="399.1" x2="224.05" y2="400.9" stroke="#222" stroke-width="0.7"/><line x1="232.28" y1="399.1" x2="232.28" y2="400.9" stroke="#222" stroke-width="0.7"/><line x1="248.72" y1="399.1" x2="248.72" y2="400.9" stroke="#222" stroke-width="0.7"/><line x1="256.95" y1="399.1" x2="256.95" y2="400.9" stroke="#222" stroke-width="0.7"/><line x1="265.18" y1="399.1" x2="265.18" y2="400.9" stroke="#222" stroke-width="0.7"/><line x1="281.62" y1="399.1" x2="281.62" y2="400.9" stroke="#222" stroke-width="0.7"/><line x1="289.85" y1="399.1" x2="289.85" y2="400.9" stroke="#222" stroke-width="0.7"/><line x1="298.07" y1="399.1" x2="298.07" y2="400.9" stroke="#222" stroke-width="0.7"/><line x1="314.52" y1="399.1" x2="314.52" y2="400.9" stroke="#222" stroke-width="0.7"/><line x1="322.75" y1="399.1" x2="322.75" y2="400.9" stroke="#222" stroke-width="0.7"/><line x1="330.98" y1="399.1" x2="330.98" y2="400.9" stroke="#222" stroke-width="0.7"/><line x1="347.42" y1="399.1" x2="347.42" y2="400.9" stroke="#222" stroke-width="0.7"/><line x1="355.65" y1="399.1" x2="355.65" y2="400.9" stroke="#222" stroke-width="0.7"/><line x1="363.88" y1="399.1" x2="363.88" y2="400.9" stroke="#222" stroke-width="0.7"/><line x1="240.5" y1="399.1" x2="240.5" y2="401.9" stroke="#222" stroke-width="0.9"/><line x1="273.4" y1="399.1" x2="273.4" y2="401.9" stroke="#222" stroke-width="0.9"/><line x1="306.3" y1="399.1" x2="306.3" y2="401.9" stroke="#222" stroke-width="0.9"/><line x1="339.2" y1="399.1" x2="339.2" y2="401.9" stroke="#222" stroke-width="0.9"/><line x1="372.1" y1="399.1" x2="372.1" y2="401.9" stroke="#222" stroke-width="0.9"/><text x="240.5" y="409.16" font-size="6" font-family='"Liberation Sans", sans-serif' text-anchor="middle" stroke="#333" stroke-width="0.25" fill="#333">200</text><text x="273.4" y="409.16" font-size="6" font-family='"Liberation Sans", sans-serif' text-anchor="middle" stroke="#333" stroke-width="0.25" fill="#333">400</text><text x="306.3" y="409.16" font-size="6" font-family='"Liberation Sans", sans-serif' text-anchor="middle" stroke="#333" stroke-width="0.25" fill="#333">600</text><text x="339.2" y="409.16" font-size="6" font-family='"Liberation Sans", sans-serif' text-anchor="middle" stroke="#333" stroke-width="0.25" fill="#333">800</text><text x="362" y="409.22" font-size="5.6" font-family='"Liberation Sans", sans-serif' stroke="#222" stroke-width="0.25" textLength="8.5" lengthAdjust="spacingAndGlyphs" fill="#222">m/z</text><line x1="235.9" y1="389.2" x2="235.9" y2="399.1" stroke="#111" stroke-width="0.9"/><line x1="238" y1="397" x2="238" y2="399.1" stroke="#111" stroke-width="0.8"/><line x1="241" y1="397.5" x2="241" y2="399.1" stroke="#111" stroke-width="0.7"/><line x1="243.5" y1="397" x2="243.5" y2="399.1" stroke="#111" stroke-width="0.8"/><line x1="246.6" y1="395.9" x2="246.6" y2="399.1" stroke="#111" stroke-width="0.8"/><line x1="249" y1="393" x2="249" y2="399.1" stroke="#111" stroke-width="0.9"/><line x1="250.6" y1="392.7" x2="250.6" y2="399.1" stroke="#111" stroke-width="0.9"/><line x1="251.7" y1="394.3" x2="251.7" y2="399.1" stroke="#111" stroke-width="0.8"/><line x1="253.3" y1="396" x2="253.3" y2="399.1" stroke="#111" stroke-width="0.8"/><line x1="256.5" y1="302" x2="256.5" y2="399.1" stroke="#111" stroke-width="0.9"/><line x1="259.3" y1="396.5" x2="259.3" y2="399.1" stroke="#111" stroke-width="0.8"/><line x1="263.3" y1="394.3" x2="263.3" y2="399.1" stroke="#111" stroke-width="0.8"/><line x1="264.9" y1="396" x2="264.9" y2="399.1" stroke="#111" stroke-width="0.8"/><line x1="268.1" y1="397" x2="268.1" y2="399.1" stroke="#111" stroke-width="0.8"/><line x1="271.5" y1="397.8" x2="271.5" y2="399.1" stroke="#111" stroke-width="0.7"/><line x1="283.6" y1="391.8" x2="283.6" y2="399.1" stroke="#111" stroke-width="0.9"/><text x="229.6" y="386.26" font-size="6" font-family='"Liberation Sans", sans-serif' stroke="#333" stroke-width="0.25" textLength="14.4" lengthAdjust="spacingAndGlyphs" fill="#333">179.1</text><text x="249.1" y="299.86" font-size="6" font-family='"Liberation Sans", sans-serif' stroke="#333" stroke-width="0.25" textLength="15.9" lengthAdjust="spacingAndGlyphs" fill="#333">301.0</text><text x="276.4" y="390.76" font-size="6" font-family='"Liberation Sans", sans-serif' stroke="#333" stroke-width="0.25" textLength="14.7" lengthAdjust="spacingAndGlyphs" fill="#333">463.9</text><text x="266" y="308.2" font-size="7.2" font-family='"Liberation Serif", serif' font-weight="bold" stroke="#000" stroke-width="0.3" textLength="7.5" lengthAdjust="spacingAndGlyphs" fill="#000">(f)</text><text x="278.4" y="308.2" font-size="7.2" font-family='"Liberation Serif", serif' font-weight="bold" stroke="#000" stroke-width="0.3" textLength="17.6" lengthAdjust="spacingAndGlyphs" fill="#000">Rutin</text><text x="295.1" y="290.89" font-size="5.8" font-family='"Liberation Sans", sans-serif' stroke="#222" stroke-width="0.25" textLength="76.1" lengthAdjust="spacingAndGlyphs" fill="#222">-MS2(609.7), 46.4min #671</text><path d="M307.2 394.2L309.15 396.5L307.2 398.8L305.25 396.5Z" fill="#16129a"/><line x1="323.7" y1="298" x2="323.7" y2="341.6" stroke="#222" stroke-width="0.9"/><line x1="322.3" y1="340.06" x2="323.7" y2="340.06" stroke="#222" stroke-width="0.7"/><line x1="322.3" y1="336.52" x2="323.7" y2="336.52" stroke="#222" stroke-width="0.7"/><line x1="322.3" y1="332.98" x2="323.7" y2="332.98" stroke="#222" stroke-width="0.7"/><line x1="322.3" y1="329.44" x2="323.7" y2="329.44" stroke="#222" stroke-width="0.7"/><line x1="322.3" y1="322.36" x2="323.7" y2="322.36" stroke="#222" stroke-width="0.7"/><line x1="322.3" y1="318.82" x2="323.7" y2="318.82" stroke="#222" stroke-width="0.7"/><line x1="322.3" y1="315.28" x2="323.7" y2="315.28" stroke="#222" stroke-width="0.7"/><line x1="322.3" y1="311.74" x2="323.7" y2="311.74" stroke="#222" stroke-width="0.7"/><line x1="322.3" y1="304.66" x2="323.7" y2="304.66" stroke="#222" stroke-width="0.7"/><line x1="322.3" y1="301.12" x2="323.7" y2="301.12" stroke="#222" stroke-width="0.7"/><line x1="321.3" y1="325.9" x2="323.7" y2="325.9" stroke="#222" stroke-width="0.9"/><line x1="321.3" y1="308.2" x2="323.7" y2="308.2" stroke="#222" stroke-width="0.9"/><text x="317" y="310.36" font-size="6" font-family='"Liberation Sans", sans-serif' text-anchor="end" stroke="#333" stroke-width="0.25" fill="#333">200</text><text x="317" y="328.06" font-size="6" font-family='"Liberation Sans", sans-serif' text-anchor="end" stroke="#333" stroke-width="0.25" fill="#333">100</text><text x="305.2" y="303.22" font-size="5.6" font-family='"Liberation Sans", sans-serif' stroke="#222" stroke-width="0.25" textLength="11.4" lengthAdjust="spacingAndGlyphs" fill="#222">mAU</text><line x1="323.5" y1="341.4" x2="370.5" y2="341.4" stroke="#222" stroke-width="1.2"/><line x1="327.25" y1="341.4" x2="327.25" y2="342.7" stroke="#222" stroke-width="0.7"/><line x1="329.6" y1="341.4" x2="329.6" y2="342.7" stroke="#222" stroke-width="0.7"/><line x1="331.95" y1="341.4" x2="331.95" y2="342.7" stroke="#222" stroke-width="0.7"/><line x1="334.3" y1="341.4" x2="334.3" y2="342.7" stroke="#222" stroke-width="0.7"/><line x1="336.65" y1="341.4" x2="336.65" y2="342.7" stroke="#222" stroke-width="0.7"/><line x1="339" y1="341.4" x2="339" y2="342.7" stroke="#222" stroke-width="0.7"/><line x1="341.35" y1="341.4" x2="341.35" y2="342.7" stroke="#222" stroke-width="0.7"/><line x1="343.7" y1="341.4" x2="343.7" y2="342.7" stroke="#222" stroke-width="0.7"/><line x1="346.05" y1="341.4" x2="346.05" y2="342.7" stroke="#222" stroke-width="0.7"/><line x1="350.75" y1="341.4" x2="350.75" y2="342.7" stroke="#222" stroke-width="0.7"/><line x1="353.1" y1="341.4" x2="353.1" y2="342.7" stroke="#222" stroke-width="0.7"/><line x1="355.45" y1="341.4" x2="355.45" y2="342.7" stroke="#222" stroke-width="0.7"/><line x1="357.8" y1="341.4" x2="357.8" y2="342.7" stroke="#222" stroke-width="0.7"/><line x1="360.15" y1="341.4" x2="360.15" y2="342.7" stroke="#222" stroke-width="0.7"/><line x1="362.5" y1="341.4" x2="362.5" y2="342.7" stroke="#222" stroke-width="0.7"/><line x1="364.85" y1="341.4" x2="364.85" y2="342.7" stroke="#222" stroke-width="0.7"/><line x1="367.2" y1="341.4" x2="367.2" y2="342.7" stroke="#222" stroke-width="0.7"/><line x1="369.55" y1="341.4" x2="369.55" y2="342.7" stroke="#222" stroke-width="0.7"/><line x1="324.9" y1="341.4" x2="324.9" y2="343.6" stroke="#222" stroke-width="0.9"/><line x1="348.4" y1="341.4" x2="348.4" y2="343.6" stroke="#222" stroke-width="0.9"/><text x="324.9" y="352.36" font-size="6" font-family='"Liberation Sans", sans-serif' text-anchor="middle" stroke="#333" stroke-width="0.25" fill="#333">200</text><text x="348.4" y="352.36" font-size="6" font-family='"Liberation Sans", sans-serif' text-anchor="middle" stroke="#333" stroke-width="0.25" fill="#333">300</text><text x="362.5" y="352.42" font-size="5.6" font-family='"Liberation Sans", sans-serif' stroke="#222" stroke-width="0.25" textLength="7.5" lengthAdjust="spacingAndGlyphs" fill="#222">nm</text><line x1="324.5" y1="328.9" x2="325.92" y2="327.88" stroke="#2424a0" stroke-width="1.9" stroke-linecap="round"/><path d="M324.2 328.9 C324.65 328.63 326.18 328.45 326.9 327.3 C327.62 326.15 328.03 324.12 328.5 322 C328.97 319.88 329.33 317.6 329.7 314.6 C330.07 311.6 330.4 306.68 330.7 304 C331 301.32 331.2 297.83 331.5 298.5 C331.8 299.17 332.17 304.83 332.5 308 C332.83 311.17 333.18 315.28 333.5 317.5 C333.82 319.72 333.98 320.95 334.4 321.3 C334.82 321.65 335.43 319.93 336 319.6 C336.57 319.27 337.22 318.85 337.8 319.3 C338.38 319.75 338.88 320.77 339.5 322.3 C340.12 323.83 340.92 326.65 341.5 328.5 C342.08 330.35 342.5 332.43 343 333.4 C343.5 334.37 343.83 334.27 344.5 334.3 C345.17 334.33 346.08 333.88 347 333.6 C347.92 333.32 349 333.03 350 332.6 C351 332.17 352 331.83 353 331 C354 330.17 355.08 328.68 356 327.6 C356.92 326.52 357.77 325.2 358.5 324.5 C359.23 323.8 359.73 323.38 360.4 323.4 C361.07 323.42 361.73 323.8 362.5 324.6 C363.27 325.4 364.17 326.63 365 328.2 C365.83 329.77 366.73 332.03 367.5 334 C368.27 335.97 369.25 339 369.6 340" fill="none" stroke="#6868e6" stroke-width="1.1" stroke-linejoin="round"/><text x="337.3" y="315.92" font-size="7" font-family='"Liberation Serif", serif' font-weight="bold" stroke="#000" stroke-width="0.35" textLength="9.9" lengthAdjust="spacingAndGlyphs" fill="#000">256</text><text x="356.9" y="319.12" font-size="7" font-family='"Liberation Serif", serif' font-weight="bold" stroke="#000" stroke-width="0.35" textLength="10.4" lengthAdjust="spacingAndGlyphs" fill="#000">356</text><line x1="28" y1="418.2" x2="28" y2="534" stroke="#222" stroke-width="0.9"/><line x1="26.4" y1="528.22" x2="28" y2="528.22" stroke="#222" stroke-width="0.7"/><line x1="26.4" y1="523.43" x2="28" y2="523.43" stroke="#222" stroke-width="0.7"/><line x1="26.4" y1="518.64" x2="28" y2="518.64" stroke="#222" stroke-width="0.7"/><line x1="26.4" y1="513.86" x2="28" y2="513.86" stroke="#222" stroke-width="0.7"/><line x1="26.4" y1="504.29" x2="28" y2="504.29" stroke="#222" stroke-width="0.7"/><line x1="26.4" y1="499.5" x2="28" y2="499.5" stroke="#222" stroke-width="0.7"/><line x1="26.4" y1="494.72" x2="28" y2="494.72" stroke="#222" stroke-width="0.7"/><line x1="26.4" y1="489.94" x2="28" y2="489.94" stroke="#222" stroke-width="0.7"/><line x1="26.4" y1="480.37" x2="28" y2="480.37" stroke="#222" stroke-width="0.7"/><line x1="26.4" y1="475.58" x2="28" y2="475.58" stroke="#222" stroke-width="0.7"/><line x1="26.4" y1="470.8" x2="28" y2="470.8" stroke="#222" stroke-width="0.7"/><line x1="26.4" y1="466.01" x2="28" y2="466.01" stroke="#222" stroke-width="0.7"/><line x1="26.4" y1="456.44" x2="28" y2="456.44" stroke="#222" stroke-width="0.7"/><line x1="26.4" y1="451.65" x2="28" y2="451.65" stroke="#222" stroke-width="0.7"/><line x1="26.4" y1="446.87" x2="28" y2="446.87" stroke="#222" stroke-width="0.7"/><line x1="26.4" y1="442.08" x2="28" y2="442.08" stroke="#222" stroke-width="0.7"/><line x1="26.4" y1="432.51" x2="28" y2="432.51" stroke="#222" stroke-width="0.7"/><line x1="26.4" y1="427.73" x2="28" y2="427.73" stroke="#222" stroke-width="0.7"/><line x1="26.4" y1="422.94" x2="28" y2="422.94" stroke="#222" stroke-width="0.7"/><line x1="25.2" y1="533" x2="28" y2="533" stroke="#222" stroke-width="0.9"/><line x1="25.2" y1="509.07" x2="28" y2="509.07" stroke="#222" stroke-width="0.9"/><line x1="25.2" y1="485.15" x2="28" y2="485.15" stroke="#222" stroke-width="0.9"/><line x1="25.2" y1="461.23" x2="28" y2="461.23" stroke="#222" stroke-width="0.9"/><line x1="25.2" y1="437.3" x2="28" y2="437.3" stroke="#222" stroke-width="0.9"/><text x="23.5" y="439.46" font-size="6" font-family='"Liberation Sans", sans-serif' text-anchor="end" stroke="#333" stroke-width="0.25" fill="#333">2.0</text><text x="23.5" y="463.39" font-size="6" font-family='"Liberation Sans", sans-serif' text-anchor="end" stroke="#333" stroke-width="0.25" fill="#333">1.5</text><text x="23.5" y="487.31" font-size="6" font-family='"Liberation Sans", sans-serif' text-anchor="end" stroke="#333" stroke-width="0.25" fill="#333">1.0</text><text x="23.5" y="511.24" font-size="6" font-family='"Liberation Sans", sans-serif' text-anchor="end" stroke="#333" stroke-width="0.25" fill="#333">0.5</text><text x="23.5" y="535.16" font-size="6" font-family='"Liberation Sans", sans-serif' text-anchor="end" stroke="#333" stroke-width="0.25" fill="#333">0.0</text><text x="6.4" y="422.62" font-size="5.6" font-family='"Liberation Sans", sans-serif' stroke="#222" stroke-width="0.25" textLength="17.1" lengthAdjust="spacingAndGlyphs" fill="#222">Intens.</text><text x="10.3" y="430.32" font-size="5.6" font-family='"Liberation Sans", sans-serif' stroke="#222" stroke-width="0.25" textLength="10.8" lengthAdjust="spacingAndGlyphs" fill="#222">x10</text><text x="21.1" y="428.59" font-size="4" font-family='"Liberation Sans", sans-serif' stroke="#222" stroke-width="0.2" textLength="2.7" lengthAdjust="spacingAndGlyphs" fill="#222">4</text><line x1="28" y1="533.6" x2="176.4" y2="533.6" stroke="#222" stroke-width="1.2"/><line x1="34.55" y1="533.6" x2="34.55" y2="535.4" stroke="#222" stroke-width="0.7"/><line x1="59.05" y1="533.6" x2="59.05" y2="535.4" stroke="#222" stroke-width="0.7"/><line x1="83.55" y1="533.6" x2="83.55" y2="535.4" stroke="#222" stroke-width="0.7"/><line x1="108.05" y1="533.6" x2="108.05" y2="535.4" stroke="#222" stroke-width="0.7"/><line x1="132.55" y1="533.6" x2="132.55" y2="535.4" stroke="#222" stroke-width="0.7"/><line x1="157.05" y1="533.6" x2="157.05" y2="535.4" stroke="#222" stroke-width="0.7"/><line x1="46.8" y1="533.6" x2="46.8" y2="536.4" stroke="#222" stroke-width="0.9"/><line x1="71.3" y1="533.6" x2="71.3" y2="536.4" stroke="#222" stroke-width="0.9"/><line x1="95.8" y1="533.6" x2="95.8" y2="536.4" stroke="#222" stroke-width="0.9"/><line x1="120.3" y1="533.6" x2="120.3" y2="536.4" stroke="#222" stroke-width="0.9"/><line x1="144.8" y1="533.6" x2="144.8" y2="536.4" stroke="#222" stroke-width="0.9"/><text x="46.8" y="543.66" font-size="6" font-family='"Liberation Sans", sans-serif' text-anchor="middle" stroke="#333" stroke-width="0.25" fill="#333">160</text><text x="71.3" y="543.66" font-size="6" font-family='"Liberation Sans", sans-serif' text-anchor="middle" stroke="#333" stroke-width="0.25" fill="#333">180</text><text x="95.8" y="543.66" font-size="6" font-family='"Liberation Sans", sans-serif' text-anchor="middle" stroke="#333" stroke-width="0.25" fill="#333">200</text><text x="120.3" y="543.66" font-size="6" font-family='"Liberation Sans", sans-serif' text-anchor="middle" stroke="#333" stroke-width="0.25" fill="#333">220</text><text x="144.8" y="543.66" font-size="6" font-family='"Liberation Sans", sans-serif' text-anchor="middle" stroke="#333" stroke-width="0.25" fill="#333">240</text><text x="166" y="543.62" font-size="5.6" font-family='"Liberation Sans", sans-serif' stroke="#222" stroke-width="0.25" textLength="9" lengthAdjust="spacingAndGlyphs" fill="#222">m/z</text><line x1="41.8" y1="487" x2="41.8" y2="533.6" stroke="#333" stroke-width="0.9"/><line x1="42" y1="517" x2="42" y2="533.6" stroke="#111" stroke-width="1.5"/><line x1="44.5" y1="428.7" x2="44.5" y2="533.6" stroke="#333" stroke-width="0.9"/><line x1="44.8" y1="528" x2="44.8" y2="533.6" stroke="#222" stroke-width="1"/><line x1="77.1" y1="451.8" x2="77.1" y2="533.6" stroke="#333" stroke-width="0.9"/><line x1="77.3" y1="515" x2="77.3" y2="533.6" stroke="#111" stroke-width="1.4"/><line x1="78.6" y1="523" x2="78.6" y2="533.6" stroke="#333" stroke-width="0.8"/><text x="36.8" y="426.36" font-size="6" font-family='"Liberation Sans", sans-serif' stroke="#333" stroke-width="0.25" textLength="15.2" lengthAdjust="spacingAndGlyphs" fill="#333">159.1</text><text x="70.5" y="449.26" font-size="6" font-family='"Liberation Sans", sans-serif' stroke="#333" stroke-width="0.25" textLength="14" lengthAdjust="spacingAndGlyphs" fill="#333">185.1</text><text x="51.5" y="434.6" font-size="7.2" font-family='"Liberation Serif", serif' font-weight="bold" stroke="#000" stroke-width="0.3" textLength="67.7" lengthAdjust="spacingAndGlyphs" fill="#000">(g) trans-Resveratrol</text><text x="101" y="424.39" font-size="5.8" font-family='"Liberation Sans", sans-serif' stroke="#222" stroke-width="0.25" textLength="74.7" lengthAdjust="spacingAndGlyphs" fill="#222">-MS2(227.4), 46.0min #680</text><path d="M130.6 528.3L132.56 530.6L130.6 532.9L128.64 530.6Z" fill="#16129a"/><line x1="131.1" y1="439.5" x2="131.1" y2="483.5" stroke="#222" stroke-width="0.9"/><line x1="129.7" y1="479.29" x2="131.1" y2="479.29" stroke="#222" stroke-width="0.7"/><line x1="129.7" y1="476.48" x2="131.1" y2="476.48" stroke="#222" stroke-width="0.7"/><line x1="129.7" y1="473.67" x2="131.1" y2="473.67" stroke="#222" stroke-width="0.7"/><line x1="129.7" y1="470.86" x2="131.1" y2="470.86" stroke="#222" stroke-width="0.7"/><line x1="129.7" y1="465.24" x2="131.1" y2="465.24" stroke="#222" stroke-width="0.7"/><line x1="129.7" y1="462.43" x2="131.1" y2="462.43" stroke="#222" stroke-width="0.7"/><line x1="129.7" y1="459.62" x2="131.1" y2="459.62" stroke="#222" stroke-width="0.7"/><line x1="129.7" y1="456.81" x2="131.1" y2="456.81" stroke="#222" stroke-width="0.7"/><line x1="129.7" y1="451.19" x2="131.1" y2="451.19" stroke="#222" stroke-width="0.7"/><line x1="129.7" y1="448.38" x2="131.1" y2="448.38" stroke="#222" stroke-width="0.7"/><line x1="129.7" y1="445.57" x2="131.1" y2="445.57" stroke="#222" stroke-width="0.7"/><line x1="129.7" y1="442.76" x2="131.1" y2="442.76" stroke="#222" stroke-width="0.7"/><line x1="129.7" y1="439.95" x2="131.1" y2="439.95" stroke="#222" stroke-width="0.7"/><line x1="128.7" y1="482.1" x2="131.1" y2="482.1" stroke="#222" stroke-width="0.9"/><line x1="128.7" y1="468.05" x2="131.1" y2="468.05" stroke="#222" stroke-width="0.9"/><line x1="128.7" y1="454" x2="131.1" y2="454" stroke="#222" stroke-width="0.9"/><text x="125.1" y="456.16" font-size="6" font-family='"Liberation Sans", sans-serif' text-anchor="end" stroke="#333" stroke-width="0.25" fill="#333">400</text><text x="125.1" y="470.21" font-size="6" font-family='"Liberation Sans", sans-serif' text-anchor="end" stroke="#333" stroke-width="0.25" fill="#333">200</text><text x="125.1" y="484.26" font-size="6" font-family='"Liberation Sans", sans-serif' text-anchor="end" stroke="#333" stroke-width="0.25" fill="#333">0</text><text x="112.4" y="444.12" font-size="5.6" font-family='"Liberation Sans", sans-serif' stroke="#222" stroke-width="0.25" textLength="12.7" lengthAdjust="spacingAndGlyphs" fill="#222">mAU</text><line x1="131.1" y1="483.5" x2="178.2" y2="483.5" stroke="#222" stroke-width="1.2"/><line x1="134.57" y1="483.5" x2="134.57" y2="484.8" stroke="#222" stroke-width="0.7"/><line x1="136.94" y1="483.5" x2="136.94" y2="484.8" stroke="#222" stroke-width="0.7"/><line x1="139.31" y1="483.5" x2="139.31" y2="484.8" stroke="#222" stroke-width="0.7"/><line x1="141.68" y1="483.5" x2="141.68" y2="484.8" stroke="#222" stroke-width="0.7"/><line x1="144.05" y1="483.5" x2="144.05" y2="484.8" stroke="#222" stroke-width="0.7"/><line x1="146.42" y1="483.5" x2="146.42" y2="484.8" stroke="#222" stroke-width="0.7"/><line x1="148.79" y1="483.5" x2="148.79" y2="484.8" stroke="#222" stroke-width="0.7"/><line x1="151.16" y1="483.5" x2="151.16" y2="484.8" stroke="#222" stroke-width="0.7"/><line x1="153.53" y1="483.5" x2="153.53" y2="484.8" stroke="#222" stroke-width="0.7"/><line x1="158.27" y1="483.5" x2="158.27" y2="484.8" stroke="#222" stroke-width="0.7"/><line x1="160.64" y1="483.5" x2="160.64" y2="484.8" stroke="#222" stroke-width="0.7"/><line x1="163.01" y1="483.5" x2="163.01" y2="484.8" stroke="#222" stroke-width="0.7"/><line x1="165.38" y1="483.5" x2="165.38" y2="484.8" stroke="#222" stroke-width="0.7"/><line x1="167.75" y1="483.5" x2="167.75" y2="484.8" stroke="#222" stroke-width="0.7"/><line x1="170.12" y1="483.5" x2="170.12" y2="484.8" stroke="#222" stroke-width="0.7"/><line x1="172.49" y1="483.5" x2="172.49" y2="484.8" stroke="#222" stroke-width="0.7"/><line x1="174.86" y1="483.5" x2="174.86" y2="484.8" stroke="#222" stroke-width="0.7"/><line x1="177.23" y1="483.5" x2="177.23" y2="484.8" stroke="#222" stroke-width="0.7"/><line x1="132.2" y1="483.5" x2="132.2" y2="485.7" stroke="#222" stroke-width="0.9"/><line x1="155.9" y1="483.5" x2="155.9" y2="485.7" stroke="#222" stroke-width="0.9"/><text x="132.2" y="493.66" font-size="6" font-family='"Liberation Sans", sans-serif' text-anchor="middle" stroke="#333" stroke-width="0.25" fill="#333">200</text><text x="155.9" y="493.66" font-size="6" font-family='"Liberation Sans", sans-serif' text-anchor="middle" stroke="#333" stroke-width="0.25" fill="#333">300</text><text x="170" y="493.62" font-size="5.6" font-family='"Liberation Sans", sans-serif' stroke="#222" stroke-width="0.25" textLength="7.5" lengthAdjust="spacingAndGlyphs" fill="#222">nm</text><line x1="131.4" y1="470.7" x2="133.06" y2="470.29" stroke="#2424a0" stroke-width="1.9" stroke-linecap="round"/><path d="M131.1 470.7 C131.5 470.62 132.72 470.43 133.5 470.2 C134.28 469.97 135.17 469.92 135.8 469.3 C136.43 468.68 136.87 468.55 137.3 466.5 C137.73 464.45 138.05 459.83 138.4 457 C138.75 454.17 139.05 449.83 139.4 449.5 C139.75 449.17 140.07 452.33 140.5 455 C140.93 457.67 141.48 462.58 142 465.5 C142.52 468.42 142.98 470.7 143.6 472.5 C144.22 474.3 145.03 476.13 145.7 476.3 C146.37 476.47 146.95 475.3 147.6 473.5 C148.25 471.7 148.92 468.5 149.6 465.5 C150.28 462.5 150.97 458.58 151.7 455.5 C152.43 452.42 153.28 449.32 154 447 C154.72 444.68 155.33 442.83 156 441.6 C156.67 440.37 157.27 439.67 158 439.6 C158.73 439.53 159.67 439.8 160.4 441.2 C161.13 442.6 161.8 445.2 162.4 448 C163 450.8 163.48 454.33 164 458 C164.52 461.67 165 466.92 165.5 470 C166 473.08 166.45 474.87 167 476.5 C167.55 478.13 167.97 478.98 168.8 479.8 C169.63 480.62 170.62 481.03 172 481.4 C173.38 481.77 176.25 481.9 177.1 482" fill="none" stroke="#6868e6" stroke-width="1.1" stroke-linejoin="round"/><text x="154.9" y="436.32" font-size="7" font-family='"Liberation Serif", serif' font-weight="bold" stroke="#000" stroke-width="0.35" textLength="9.5" lengthAdjust="spacingAndGlyphs" fill="#000">306</text><line x1="224.5" y1="418.6" x2="224.5" y2="533.5" stroke="#222" stroke-width="0.9"/><line x1="222.9" y1="528.65" x2="224.5" y2="528.65" stroke="#222" stroke-width="0.7"/><line x1="222.9" y1="524.9" x2="224.5" y2="524.9" stroke="#222" stroke-width="0.7"/><line x1="222.9" y1="521.14" x2="224.5" y2="521.14" stroke="#222" stroke-width="0.7"/><line x1="222.9" y1="517.39" x2="224.5" y2="517.39" stroke="#222" stroke-width="0.7"/><line x1="222.9" y1="509.89" x2="224.5" y2="509.89" stroke="#222" stroke-width="0.7"/><line x1="222.9" y1="506.14" x2="224.5" y2="506.14" stroke="#222" stroke-width="0.7"/><line x1="222.9" y1="502.38" x2="224.5" y2="502.38" stroke="#222" stroke-width="0.7"/><line x1="222.9" y1="498.63" x2="224.5" y2="498.63" stroke="#222" stroke-width="0.7"/><line x1="222.9" y1="491.13" x2="224.5" y2="491.13" stroke="#222" stroke-width="0.7"/><line x1="222.9" y1="487.38" x2="224.5" y2="487.38" stroke="#222" stroke-width="0.7"/><line x1="222.9" y1="483.62" x2="224.5" y2="483.62" stroke="#222" stroke-width="0.7"/><line x1="222.9" y1="479.87" x2="224.5" y2="479.87" stroke="#222" stroke-width="0.7"/><line x1="222.9" y1="472.37" x2="224.5" y2="472.37" stroke="#222" stroke-width="0.7"/><line x1="222.9" y1="468.62" x2="224.5" y2="468.62" stroke="#222" stroke-width="0.7"/><line x1="222.9" y1="464.86" x2="224.5" y2="464.86" stroke="#222" stroke-width="0.7"/><line x1="222.9" y1="461.11" x2="224.5" y2="461.11" stroke="#222" stroke-width="0.7"/><line x1="222.9" y1="453.61" x2="224.5" y2="453.61" stroke="#222" stroke-width="0.7"/><line x1="222.9" y1="449.86" x2="224.5" y2="449.86" stroke="#222" stroke-width="0.7"/><line x1="222.9" y1="446.1" x2="224.5" y2="446.1" stroke="#222" stroke-width="0.7"/><line x1="222.9" y1="442.35" x2="224.5" y2="442.35" stroke="#222" stroke-width="0.7"/><line x1="222.9" y1="434.85" x2="224.5" y2="434.85" stroke="#222" stroke-width="0.7"/><line x1="222.9" y1="431.1" x2="224.5" y2="431.1" stroke="#222" stroke-width="0.7"/><line x1="222.9" y1="427.34" x2="224.5" y2="427.34" stroke="#222" stroke-width="0.7"/><line x1="222.9" y1="423.59" x2="224.5" y2="423.59" stroke="#222" stroke-width="0.7"/><line x1="221.7" y1="532.4" x2="224.5" y2="532.4" stroke="#222" stroke-width="0.9"/><line x1="221.7" y1="513.64" x2="224.5" y2="513.64" stroke="#222" stroke-width="0.9"/><line x1="221.7" y1="494.88" x2="224.5" y2="494.88" stroke="#222" stroke-width="0.9"/><line x1="221.7" y1="476.12" x2="224.5" y2="476.12" stroke="#222" stroke-width="0.9"/><line x1="221.7" y1="457.36" x2="224.5" y2="457.36" stroke="#222" stroke-width="0.9"/><line x1="221.7" y1="438.6" x2="224.5" y2="438.6" stroke="#222" stroke-width="0.9"/><line x1="221.7" y1="419.84" x2="224.5" y2="419.84" stroke="#222" stroke-width="0.9"/><text x="218.6" y="440.76" font-size="6" font-family='"Liberation Sans", sans-serif' text-anchor="end" stroke="#333" stroke-width="0.25" fill="#333">2.5</text><text x="218.6" y="459.52" font-size="6" font-family='"Liberation Sans", sans-serif' text-anchor="end" stroke="#333" stroke-width="0.25" fill="#333">2.0</text><text x="218.6" y="478.28" font-size="6" font-family='"Liberation Sans", sans-serif' text-anchor="end" stroke="#333" stroke-width="0.25" fill="#333">1.5</text><text x="218.6" y="497.04" font-size="6" font-family='"Liberation Sans", sans-serif' text-anchor="end" stroke="#333" stroke-width="0.25" fill="#333">1.0</text><text x="218.6" y="515.8" font-size="6" font-family='"Liberation Sans", sans-serif' text-anchor="end" stroke="#333" stroke-width="0.25" fill="#333">0.5</text><text x="218.6" y="534.56" font-size="6" font-family='"Liberation Sans", sans-serif' text-anchor="end" stroke="#333" stroke-width="0.25" fill="#333">0.0</text><text x="202.4" y="422.62" font-size="5.6" font-family='"Liberation Sans", sans-serif' stroke="#222" stroke-width="0.25" textLength="17.1" lengthAdjust="spacingAndGlyphs" fill="#222">Intens.</text><text x="206.8" y="429.62" font-size="5.6" font-family='"Liberation Sans", sans-serif' stroke="#222" stroke-width="0.25" textLength="10.7" lengthAdjust="spacingAndGlyphs" fill="#222">x10</text><text x="217.5" y="427.79" font-size="4" font-family='"Liberation Sans", sans-serif' stroke="#222" stroke-width="0.2" textLength="2.4" lengthAdjust="spacingAndGlyphs" fill="#222">4</text><line x1="224.5" y1="533" x2="372" y2="533" stroke="#222" stroke-width="1.2"/><line x1="230.69" y1="533" x2="230.69" y2="534.8" stroke="#222" stroke-width="0.7"/><line x1="237.75" y1="533" x2="237.75" y2="534.8" stroke="#222" stroke-width="0.7"/><line x1="251.85" y1="533" x2="251.85" y2="534.8" stroke="#222" stroke-width="0.7"/><line x1="258.91" y1="533" x2="258.91" y2="534.8" stroke="#222" stroke-width="0.7"/><line x1="265.96" y1="533" x2="265.96" y2="534.8" stroke="#222" stroke-width="0.7"/><line x1="273.01" y1="533" x2="273.01" y2="534.8" stroke="#222" stroke-width="0.7"/><line x1="287.12" y1="533" x2="287.12" y2="534.8" stroke="#222" stroke-width="0.7"/><line x1="294.17" y1="533" x2="294.17" y2="534.8" stroke="#222" stroke-width="0.7"/><line x1="301.23" y1="533" x2="301.23" y2="534.8" stroke="#222" stroke-width="0.7"/><line x1="308.28" y1="533" x2="308.28" y2="534.8" stroke="#222" stroke-width="0.7"/><line x1="322.39" y1="533" x2="322.39" y2="534.8" stroke="#222" stroke-width="0.7"/><line x1="329.44" y1="533" x2="329.44" y2="534.8" stroke="#222" stroke-width="0.7"/><line x1="336.49" y1="533" x2="336.49" y2="534.8" stroke="#222" stroke-width="0.7"/><line x1="343.55" y1="533" x2="343.55" y2="534.8" stroke="#222" stroke-width="0.7"/><line x1="357.65" y1="533" x2="357.65" y2="534.8" stroke="#222" stroke-width="0.7"/><line x1="364.71" y1="533" x2="364.71" y2="534.8" stroke="#222" stroke-width="0.7"/><line x1="371.76" y1="533" x2="371.76" y2="534.8" stroke="#222" stroke-width="0.7"/><line x1="244.8" y1="533" x2="244.8" y2="535.8" stroke="#222" stroke-width="0.9"/><line x1="280.07" y1="533" x2="280.07" y2="535.8" stroke="#222" stroke-width="0.9"/><line x1="315.33" y1="533" x2="315.33" y2="535.8" stroke="#222" stroke-width="0.9"/><line x1="350.6" y1="533" x2="350.6" y2="535.8" stroke="#222" stroke-width="0.9"/><text x="244.8" y="543.46" font-size="6" font-family='"Liberation Sans", sans-serif' text-anchor="middle" stroke="#333" stroke-width="0.25" fill="#333">150</text><text x="280.07" y="543.46" font-size="6" font-family='"Liberation Sans", sans-serif' text-anchor="middle" stroke="#333" stroke-width="0.25" fill="#333">200</text><text x="315.33" y="543.46" font-size="6" font-family='"Liberation Sans", sans-serif' text-anchor="middle" stroke="#333" stroke-width="0.25" fill="#333">250</text><text x="350.6" y="543.46" font-size="6" font-family='"Liberation Sans", sans-serif' text-anchor="middle" stroke="#333" stroke-width="0.25" fill="#333">300</text><text x="364" y="543.42" font-size="5.6" font-family='"Liberation Sans", sans-serif' stroke="#222" stroke-width="0.25" textLength="8.5" lengthAdjust="spacingAndGlyphs" fill="#222">m/z</text><line x1="226.6" y1="520.5" x2="226.6" y2="533" stroke="#444" stroke-width="0.8"/><line x1="296.4" y1="523.1" x2="296.4" y2="533" stroke="#666" stroke-width="0.8"/><line x1="298.9" y1="523.1" x2="298.9" y2="533" stroke="#666" stroke-width="0.8"/><line x1="303.2" y1="523.1" x2="303.2" y2="533" stroke="#666" stroke-width="0.8"/><line x1="308.5" y1="516.1" x2="308.5" y2="533" stroke="#111" stroke-width="1.2"/><line x1="309.5" y1="503.3" x2="309.5" y2="533" stroke="#111" stroke-width="1"/><line x1="329.9" y1="519.3" x2="329.9" y2="533" stroke="#777" stroke-width="0.8"/><line x1="339.3" y1="496" x2="339.3" y2="533" stroke="#555" stroke-width="0.9"/><line x1="340.3" y1="435.7" x2="340.3" y2="533" stroke="#333" stroke-width="0.9"/><line x1="339.8" y1="516.1" x2="339.8" y2="533" stroke="#111" stroke-width="2"/><line x1="351.5" y1="503.3" x2="351.5" y2="533" stroke="#111" stroke-width="1.4"/><text x="332.7" y="433.56" font-size="6" font-family='"Liberation Sans", sans-serif' stroke="#333" stroke-width="0.25" textLength="14.7" lengthAdjust="spacingAndGlyphs" fill="#333">286.0</text><text x="301" y="500.76" font-size="6" font-family='"Liberation Sans", sans-serif' stroke="#333" stroke-width="0.25" textLength="16.2" lengthAdjust="spacingAndGlyphs" fill="#333">242.1</text><text x="344.1" y="499.06" font-size="6" font-family='"Liberation Sans", sans-serif' stroke="#333" stroke-width="0.25" textLength="14.9" lengthAdjust="spacingAndGlyphs" fill="#333">301.1</text><text x="282.6" y="441.2" font-size="7.2" font-family='"Liberation Serif", serif' font-weight="bold" stroke="#000" stroke-width="0.3" textLength="46.3" lengthAdjust="spacingAndGlyphs" fill="#000">(h) Hesperetin</text><text x="300.7" y="423.69" font-size="5.8" font-family='"Liberation Sans", sans-serif' stroke="#222" stroke-width="0.25" textLength="71.4" lengthAdjust="spacingAndGlyphs" fill="#222">IS2(301.4), 52.7min #774</text><path d="M351.5 500.8L353.29 502.9L351.5 505L349.71 502.9Z" fill="#16129a"/><line x1="246.9" y1="420.5" x2="246.9" y2="464.3" stroke="#222" stroke-width="0.9"/><line x1="245.5" y1="463.44" x2="246.9" y2="463.44" stroke="#222" stroke-width="0.7"/><line x1="245.5" y1="457.56" x2="246.9" y2="457.56" stroke="#222" stroke-width="0.7"/><line x1="245.5" y1="454.62" x2="246.9" y2="454.62" stroke="#222" stroke-width="0.7"/><line x1="245.5" y1="451.68" x2="246.9" y2="451.68" stroke="#222" stroke-width="0.7"/><line x1="245.5" y1="448.74" x2="246.9" y2="448.74" stroke="#222" stroke-width="0.7"/><line x1="245.5" y1="442.86" x2="246.9" y2="442.86" stroke="#222" stroke-width="0.7"/><line x1="245.5" y1="439.92" x2="246.9" y2="439.92" stroke="#222" stroke-width="0.7"/><line x1="245.5" y1="436.98" x2="246.9" y2="436.98" stroke="#222" stroke-width="0.7"/><line x1="245.5" y1="434.04" x2="246.9" y2="434.04" stroke="#222" stroke-width="0.7"/><line x1="245.5" y1="431.1" x2="246.9" y2="431.1" stroke="#222" stroke-width="0.7"/><line x1="245.5" y1="428.16" x2="246.9" y2="428.16" stroke="#222" stroke-width="0.7"/><line x1="245.5" y1="425.22" x2="246.9" y2="425.22" stroke="#222" stroke-width="0.7"/><line x1="245.5" y1="422.28" x2="246.9" y2="422.28" stroke="#222" stroke-width="0.7"/><line x1="244.5" y1="460.5" x2="246.9" y2="460.5" stroke="#222" stroke-width="0.9"/><line x1="244.5" y1="445.8" x2="246.9" y2="445.8" stroke="#222" stroke-width="0.9"/><text x="241.1" y="447.96" font-size="6" font-family='"Liberation Sans", sans-serif' text-anchor="end" stroke="#333" stroke-width="0.25" fill="#333">200</text><text x="241.1" y="462.66" font-size="6" font-family='"Liberation Sans", sans-serif' text-anchor="end" stroke="#333" stroke-width="0.25" fill="#333">0</text><text x="228.4" y="425.42" font-size="5.6" font-family='"Liberation Sans", sans-serif' stroke="#222" stroke-width="0.25" textLength="12.7" lengthAdjust="spacingAndGlyphs" fill="#222">mAU</text><line x1="247.2" y1="464.1" x2="294.3" y2="464.1" stroke="#222" stroke-width="1.2"/><line x1="252.34" y1="464.1" x2="252.34" y2="465.4" stroke="#222" stroke-width="0.7"/><line x1="254.48" y1="464.1" x2="254.48" y2="465.4" stroke="#222" stroke-width="0.7"/><line x1="256.62" y1="464.1" x2="256.62" y2="465.4" stroke="#222" stroke-width="0.7"/><line x1="258.76" y1="464.1" x2="258.76" y2="465.4" stroke="#222" stroke-width="0.7"/><line x1="260.9" y1="464.1" x2="260.9" y2="465.4" stroke="#222" stroke-width="0.7"/><line x1="263.04" y1="464.1" x2="263.04" y2="465.4" stroke="#222" stroke-width="0.7"/><line x1="265.18" y1="464.1" x2="265.18" y2="465.4" stroke="#222" stroke-width="0.7"/><line x1="267.32" y1="464.1" x2="267.32" y2="465.4" stroke="#222" stroke-width="0.7"/><line x1="269.46" y1="464.1" x2="269.46" y2="465.4" stroke="#222" stroke-width="0.7"/><line x1="273.74" y1="464.1" x2="273.74" y2="465.4" stroke="#222" stroke-width="0.7"/><line x1="275.88" y1="464.1" x2="275.88" y2="465.4" stroke="#222" stroke-width="0.7"/><line x1="278.02" y1="464.1" x2="278.02" y2="465.4" stroke="#222" stroke-width="0.7"/><line x1="280.16" y1="464.1" x2="280.16" y2="465.4" stroke="#222" stroke-width="0.7"/><line x1="282.3" y1="464.1" x2="282.3" y2="465.4" stroke="#222" stroke-width="0.7"/><line x1="284.44" y1="464.1" x2="284.44" y2="465.4" stroke="#222" stroke-width="0.7"/><line x1="286.58" y1="464.1" x2="286.58" y2="465.4" stroke="#222" stroke-width="0.7"/><line x1="288.72" y1="464.1" x2="288.72" y2="465.4" stroke="#222" stroke-width="0.7"/><line x1="290.86" y1="464.1" x2="290.86" y2="465.4" stroke="#222" stroke-width="0.7"/><line x1="293" y1="464.1" x2="293" y2="465.4" stroke="#222" stroke-width="0.7"/><line x1="250.2" y1="464.1" x2="250.2" y2="466.3" stroke="#222" stroke-width="0.9"/><line x1="271.6" y1="464.1" x2="271.6" y2="466.3" stroke="#222" stroke-width="0.9"/><text x="250.2" y="474.66" font-size="6" font-family='"Liberation Sans", sans-serif' text-anchor="middle" stroke="#333" stroke-width="0.25" fill="#333">200</text><text x="271.6" y="474.66" font-size="6" font-family='"Liberation Sans", sans-serif' text-anchor="middle" stroke="#333" stroke-width="0.25" fill="#333">300</text><text x="287" y="474.62" font-size="5.6" font-family='"Liberation Sans", sans-serif' stroke="#222" stroke-width="0.25" textLength="7.5" lengthAdjust="spacingAndGlyphs" fill="#222">nm</text><line x1="247.8" y1="462.9" x2="248.44" y2="461.13" stroke="#2424a0" stroke-width="1.9" stroke-linecap="round"/><path d="M247.5 462.9 C247.95 462.05 249.33 461.17 250.2 457.8 C251.07 454.43 252.03 447.33 252.7 442.7 C253.37 438.07 253.7 433.57 254.2 430 C254.7 426.43 255.2 420.97 255.7 421.3 C256.2 421.63 256.65 427.58 257.2 432 C257.75 436.42 258.28 443.45 259 447.8 C259.72 452.15 260.75 456.57 261.5 458.1 C262.25 459.63 262.87 457.67 263.5 457 C264.13 456.33 264.63 455.43 265.3 454.1 C265.97 452.77 266.73 450.27 267.5 449 C268.27 447.73 269.15 446.33 269.9 446.5 C270.65 446.67 271.3 448.35 272 450 C272.7 451.65 273.27 454.9 274.1 456.4 C274.93 457.9 275.95 458.42 277 459 C278.05 459.58 278.9 459.6 280.4 459.9 C281.9 460.2 283.9 460.52 286 460.8 C288.1 461.08 291.83 461.47 293 461.6" fill="none" stroke="#6868e6" stroke-width="1.1" stroke-linejoin="round"/><text x="264.8" y="441.92" font-size="7" font-family='"Liberation Serif", serif' font-weight="bold" stroke="#000" stroke-width="0.35" textLength="10.6" lengthAdjust="spacingAndGlyphs" fill="#000">288</text><line x1="41" y1="399.36" x2="41" y2="400.4" stroke="#333" stroke-width="0.7"/><line x1="45.09" y1="398.23" x2="45.09" y2="400.4" stroke="#333" stroke-width="0.7"/><line x1="47.66" y1="398.71" x2="47.66" y2="400.4" stroke="#333" stroke-width="0.7"/><line x1="50.73" y1="398.43" x2="50.73" y2="400.4" stroke="#333" stroke-width="0.7"/><line x1="54.67" y1="399.43" x2="54.67" y2="400.4" stroke="#333" stroke-width="0.7"/><line x1="56.66" y1="398.1" x2="56.66" y2="400.4" stroke="#333" stroke-width="0.7"/><line x1="59.69" y1="398.23" x2="59.69" y2="400.4" stroke="#333" stroke-width="0.7"/><line x1="61.62" y1="398.8" x2="61.62" y2="400.4" stroke="#333" stroke-width="0.7"/><line x1="65.39" y1="399.19" x2="65.39" y2="400.4" stroke="#333" stroke-width="0.7"/><line x1="69.73" y1="397.98" x2="69.73" y2="400.4" stroke="#333" stroke-width="0.7"/><line x1="71.72" y1="399.55" x2="71.72" y2="400.4" stroke="#333" stroke-width="0.7"/><line x1="75.03" y1="397.91" x2="75.03" y2="400.4" stroke="#333" stroke-width="0.7"/><line x1="77.93" y1="399.21" x2="77.93" y2="400.4" stroke="#333" stroke-width="0.7"/><line x1="80.93" y1="399.55" x2="80.93" y2="400.4" stroke="#333" stroke-width="0.7"/><line x1="83.41" y1="398.81" x2="83.41" y2="400.4" stroke="#333" stroke-width="0.7"/><line x1="86.6" y1="399.18" x2="86.6" y2="400.4" stroke="#333" stroke-width="0.7"/><line x1="89.11" y1="399.21" x2="89.11" y2="400.4" stroke="#333" stroke-width="0.7"/><line x1="92.21" y1="399.08" x2="92.21" y2="400.4" stroke="#333" stroke-width="0.7"/><line x1="94.19" y1="398.09" x2="94.19" y2="400.4" stroke="#333" stroke-width="0.7"/><line x1="97.53" y1="398.44" x2="97.53" y2="400.4" stroke="#333" stroke-width="0.7"/><line x1="99.93" y1="397.81" x2="99.93" y2="400.4" stroke="#333" stroke-width="0.7"/><line x1="104.05" y1="399.38" x2="104.05" y2="400.4" stroke="#333" stroke-width="0.7"/><line x1="106.82" y1="398.3" x2="106.82" y2="400.4" stroke="#333" stroke-width="0.7"/><line x1="110.56" y1="397.91" x2="110.56" y2="400.4" stroke="#333" stroke-width="0.7"/><line x1="113.56" y1="398.11" x2="113.56" y2="400.4" stroke="#333" stroke-width="0.7"/><line x1="117.2" y1="399.05" x2="117.2" y2="400.4" stroke="#333" stroke-width="0.7"/><line x1="120.62" y1="398.01" x2="120.62" y2="400.4" stroke="#333" stroke-width="0.7"/><line x1="124.71" y1="398.69" x2="124.71" y2="400.4" stroke="#333" stroke-width="0.7"/><line x1="128.13" y1="399.54" x2="128.13" y2="400.4" stroke="#333" stroke-width="0.7"/><line x1="226" y1="397.16" x2="226" y2="399.1" stroke="#333" stroke-width="0.7"/><line x1="230.07" y1="398.42" x2="230.07" y2="399.1" stroke="#333" stroke-width="0.7"/><line x1="232.08" y1="397.33" x2="232.08" y2="399.1" stroke="#333" stroke-width="0.7"/><line x1="235.64" y1="397.56" x2="235.64" y2="399.1" stroke="#333" stroke-width="0.7"/><line x1="238.18" y1="397.65" x2="238.18" y2="399.1" stroke="#333" stroke-width="0.7"/><line x1="241.44" y1="397.69" x2="241.44" y2="399.1" stroke="#333" stroke-width="0.7"/><line x1="243.62" y1="397.9" x2="243.62" y2="399.1" stroke="#333" stroke-width="0.7"/><line x1="246.37" y1="397.49" x2="246.37" y2="399.1" stroke="#333" stroke-width="0.7"/><line x1="250.55" y1="397.17" x2="250.55" y2="399.1" stroke="#333" stroke-width="0.7"/><line x1="253.66" y1="397.88" x2="253.66" y2="399.1" stroke="#333" stroke-width="0.7"/><line x1="256.1" y1="398.45" x2="256.1" y2="399.1" stroke="#333" stroke-width="0.7"/><line x1="257.97" y1="397.85" x2="257.97" y2="399.1" stroke="#333" stroke-width="0.7"/><line x1="260.53" y1="397.97" x2="260.53" y2="399.1" stroke="#333" stroke-width="0.7"/><line x1="264.47" y1="397.76" x2="264.47" y2="399.1" stroke="#333" stroke-width="0.7"/><line x1="267.62" y1="398.17" x2="267.62" y2="399.1" stroke="#333" stroke-width="0.7"/><line x1="269.48" y1="398.04" x2="269.48" y2="399.1" stroke="#333" stroke-width="0.7"/><line x1="271.6" y1="397.79" x2="271.6" y2="399.1" stroke="#333" stroke-width="0.7"/><line x1="275.8" y1="397.56" x2="275.8" y2="399.1" stroke="#333" stroke-width="0.7"/><line x1="278.04" y1="397.25" x2="278.04" y2="399.1" stroke="#333" stroke-width="0.7"/><line x1="281.75" y1="397.47" x2="281.75" y2="399.1" stroke="#333" stroke-width="0.7"/><line x1="285.72" y1="397.43" x2="285.72" y2="399.1" stroke="#333" stroke-width="0.7"/><line x1="289.42" y1="398" x2="289.42" y2="399.1" stroke="#333" stroke-width="0.7"/><line x1="293.57" y1="397.15" x2="293.57" y2="399.1" stroke="#333" stroke-width="0.7"/><line x1="295.76" y1="397.44" x2="295.76" y2="399.1" stroke="#333" stroke-width="0.7"/><line x1="299.28" y1="397.85" x2="299.28" y2="399.1" stroke="#333" stroke-width="0.7"/><line x1="29" y1="257.82" x2="29" y2="258.8" stroke="#333" stroke-width="0.7"/><line x1="32.11" y1="257.61" x2="32.11" y2="258.8" stroke="#333" stroke-width="0.7"/><line x1="35.36" y1="257.2" x2="35.36" y2="258.8" stroke="#333" stroke-width="0.7"/><line x1="37.31" y1="258.18" x2="37.31" y2="258.8" stroke="#333" stroke-width="0.7"/><line x1="41.12" y1="257.79" x2="41.12" y2="258.8" stroke="#333" stroke-width="0.7"/><line x1="43.49" y1="256.61" x2="43.49" y2="258.8" stroke="#333" stroke-width="0.7"/><line x1="46.41" y1="256.86" x2="46.41" y2="258.8" stroke="#333" stroke-width="0.7"/><line x1="49.36" y1="257.18" x2="49.36" y2="258.8" stroke="#333" stroke-width="0.7"/><line x1="51.52" y1="257.18" x2="51.52" y2="258.8" stroke="#333" stroke-width="0.7"/><line x1="55.4" y1="257.36" x2="55.4" y2="258.8" stroke="#333" stroke-width="0.7"/><line x1="58.98" y1="257.13" x2="58.98" y2="258.8" stroke="#333" stroke-width="0.7"/><line x1="60.93" y1="256.99" x2="60.93" y2="258.8" stroke="#333" stroke-width="0.7"/><line x1="64.15" y1="257.72" x2="64.15" y2="258.8" stroke="#333" stroke-width="0.7"/><line x1="66.03" y1="256.82" x2="66.03" y2="258.8" stroke="#333" stroke-width="0.7"/><line x1="68.96" y1="257.05" x2="68.96" y2="258.8" stroke="#333" stroke-width="0.7"/><line x1="72.87" y1="257.06" x2="72.87" y2="258.8" stroke="#333" stroke-width="0.7"/><line x1="76.88" y1="257.57" x2="76.88" y2="258.8" stroke="#333" stroke-width="0.7"/><line x1="80.6" y1="257.49" x2="80.6" y2="258.8" stroke="#333" stroke-width="0.7"/><line x1="84.65" y1="256.79" x2="84.65" y2="258.8" stroke="#333" stroke-width="0.7"/><line x1="86.68" y1="257.98" x2="86.68" y2="258.8" stroke="#333" stroke-width="0.7"/><line x1="89" y1="256.66" x2="89" y2="258.8" stroke="#333" stroke-width="0.7"/><line x1="91.85" y1="257.2" x2="91.85" y2="258.8" stroke="#333" stroke-width="0.7"/><line x1="94.37" y1="257.39" x2="94.37" y2="258.8" stroke="#333" stroke-width="0.7"/><line x1="97.1" y1="257.64" x2="97.1" y2="258.8" stroke="#333" stroke-width="0.7"/><line x1="100.3" y1="257.27" x2="100.3" y2="258.8" stroke="#333" stroke-width="0.7"/><line x1="104.27" y1="257.11" x2="104.27" y2="258.8" stroke="#333" stroke-width="0.7"/><line x1="108.3" y1="256.83" x2="108.3" y2="258.8" stroke="#333" stroke-width="0.7"/><line x1="112.48" y1="257.13" x2="112.48" y2="258.8" stroke="#333" stroke-width="0.7"/><line x1="114.67" y1="256.82" x2="114.67" y2="258.8" stroke="#333" stroke-width="0.7"/><line x1="118.79" y1="256.75" x2="118.79" y2="258.8" stroke="#333" stroke-width="0.7"/><line x1="121.95" y1="257.06" x2="121.95" y2="258.8" stroke="#333" stroke-width="0.7"/><line x1="124.26" y1="256.87" x2="124.26" y2="258.8" stroke="#333" stroke-width="0.7"/><line x1="127.44" y1="257.74" x2="127.44" y2="258.8" stroke="#333" stroke-width="0.7"/><line x1="129.39" y1="256.83" x2="129.39" y2="258.8" stroke="#333" stroke-width="0.7"/><line x1="133.57" y1="258.06" x2="133.57" y2="258.8" stroke="#333" stroke-width="0.7"/><line x1="137.29" y1="257.54" x2="137.29" y2="258.8" stroke="#333" stroke-width="0.7"/><line x1="139.45" y1="257.73" x2="139.45" y2="258.8" stroke="#333" stroke-width="0.7"/><line x1="143.09" y1="256.8" x2="143.09" y2="258.8" stroke="#333" stroke-width="0.7"/><line x1="145" y1="257.22" x2="145" y2="258.8" stroke="#333" stroke-width="0.7"/><line x1="146.91" y1="257.05" x2="146.91" y2="258.8" stroke="#333" stroke-width="0.7"/><line x1="149.5" y1="256.79" x2="149.5" y2="258.8" stroke="#333" stroke-width="0.7"/><line x1="153.66" y1="257.39" x2="153.66" y2="258.8" stroke="#333" stroke-width="0.7"/><line x1="157.85" y1="257.7" x2="157.85" y2="258.8" stroke="#333" stroke-width="0.7"/><line x1="159.84" y1="257.24" x2="159.84" y2="258.8" stroke="#333" stroke-width="0.7"/><line x1="161.71" y1="257.88" x2="161.71" y2="258.8" stroke="#333" stroke-width="0.7"/><line x1="164.49" y1="257.22" x2="164.49" y2="258.8" stroke="#333" stroke-width="0.7"/><line x1="166.67" y1="258.13" x2="166.67" y2="258.8" stroke="#333" stroke-width="0.7"/><line x1="226" y1="259.89" x2="226" y2="260.7" stroke="#333" stroke-width="0.7"/><line x1="228.39" y1="259.69" x2="228.39" y2="260.7" stroke="#333" stroke-width="0.7"/><line x1="230.92" y1="260.11" x2="230.92" y2="260.7" stroke="#333" stroke-width="0.7"/><line x1="234.15" y1="259.01" x2="234.15" y2="260.7" stroke="#333" stroke-width="0.7"/><line x1="238.49" y1="259.21" x2="238.49" y2="260.7" stroke="#333" stroke-width="0.7"/><line x1="241.21" y1="259.5" x2="241.21" y2="260.7" stroke="#333" stroke-width="0.7"/><line x1="244.08" y1="259.98" x2="244.08" y2="260.7" stroke="#333" stroke-width="0.7"/><line x1="246.48" y1="259.92" x2="246.48" y2="260.7" stroke="#333" stroke-width="0.7"/><line x1="251.18" y1="259.12" x2="251.18" y2="260.7" stroke="#333" stroke-width="0.7"/><line x1="255.54" y1="259.16" x2="255.54" y2="260.7" stroke="#333" stroke-width="0.7"/><line x1="258.18" y1="259.8" x2="258.18" y2="260.7" stroke="#333" stroke-width="0.7"/><line x1="262.03" y1="259.25" x2="262.03" y2="260.7" stroke="#333" stroke-width="0.7"/><line x1="266.53" y1="259.06" x2="266.53" y2="260.7" stroke="#333" stroke-width="0.7"/><line x1="268.87" y1="259.41" x2="268.87" y2="260.7" stroke="#333" stroke-width="0.7"/><line x1="272.85" y1="259.54" x2="272.85" y2="260.7" stroke="#333" stroke-width="0.7"/><line x1="275.45" y1="259.58" x2="275.45" y2="260.7" stroke="#333" stroke-width="0.7"/><line x1="277.8" y1="258.99" x2="277.8" y2="260.7" stroke="#333" stroke-width="0.7"/><line x1="282.32" y1="259.49" x2="282.32" y2="260.7" stroke="#333" stroke-width="0.7"/><line x1="285.26" y1="259.02" x2="285.26" y2="260.7" stroke="#333" stroke-width="0.7"/><line x1="288.97" y1="259.05" x2="288.97" y2="260.7" stroke="#333" stroke-width="0.7"/><line x1="293.44" y1="259.54" x2="293.44" y2="260.7" stroke="#333" stroke-width="0.7"/><line x1="296.7" y1="259.42" x2="296.7" y2="260.7" stroke="#333" stroke-width="0.7"/></svg>
</body></html>
